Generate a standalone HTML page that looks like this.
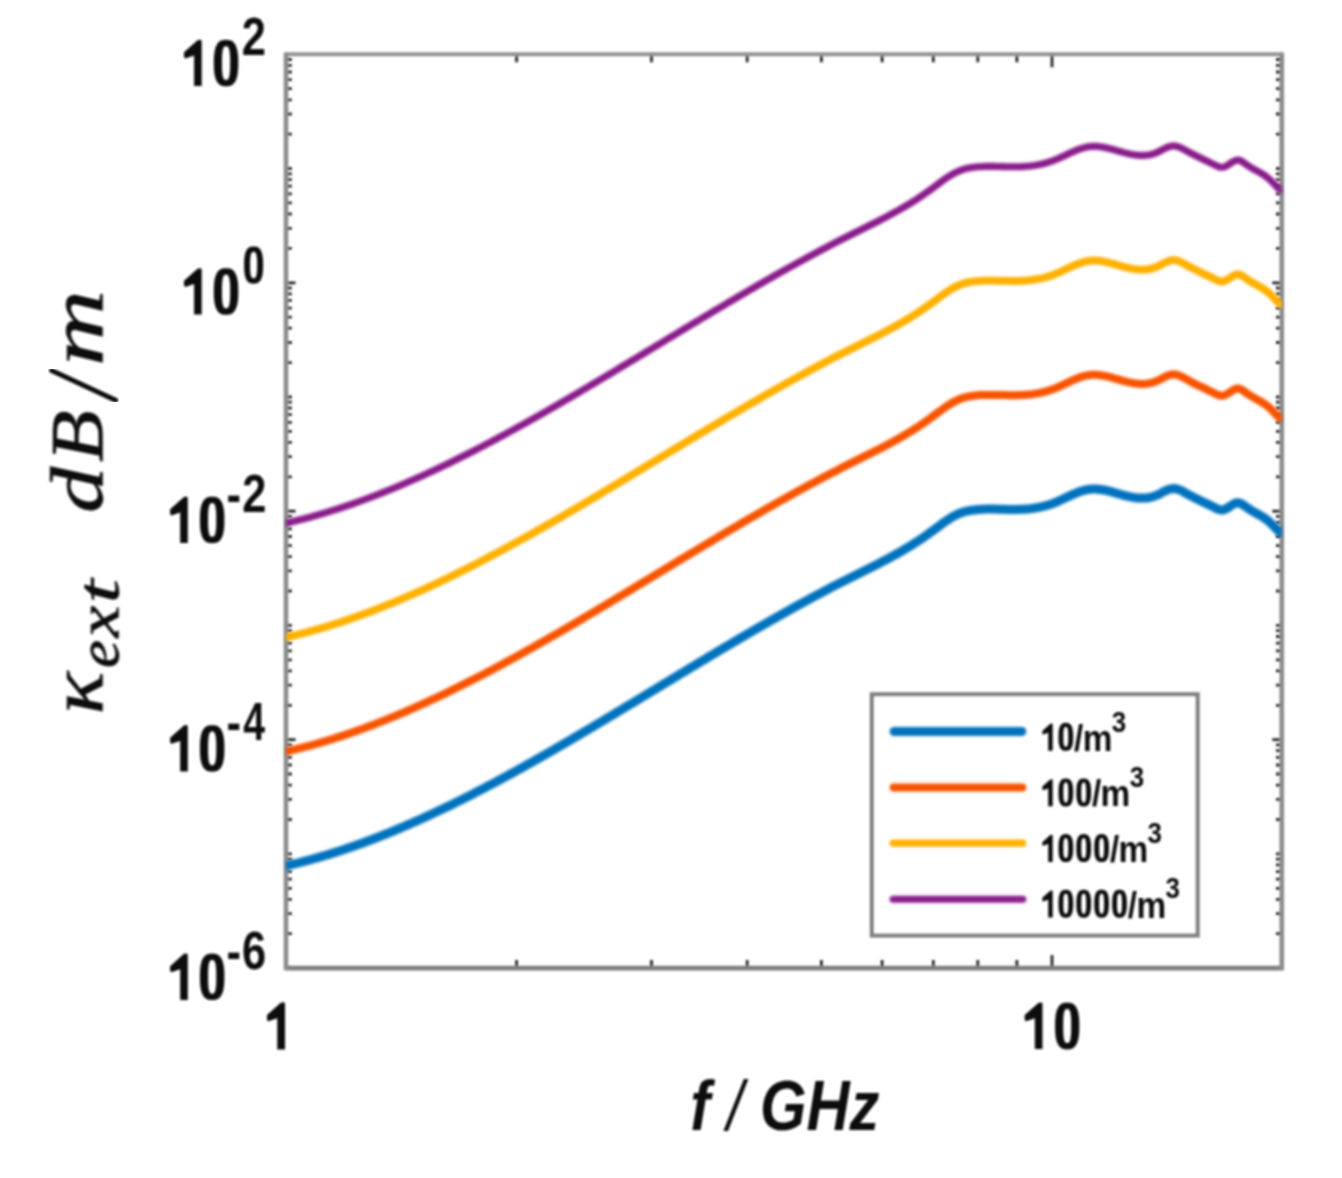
<!DOCTYPE html><html><head><meta charset="utf-8"><style>html,body{margin:0;padding:0;background:#fff;}svg{display:block}</style></head><body>
<svg width="1342" height="1178" viewBox="0 0 1342 1178">
<defs><filter id="b" x="-5%" y="-5%" width="110%" height="110%"><feGaussianBlur stdDeviation="1.0"/></filter><filter id="c" x="-5%" y="-5%" width="110%" height="110%"><feGaussianBlur stdDeviation="1.5"/></filter>
<clipPath id="ax"><rect x="286.0" y="44.3" width="995.8" height="933.8"/></clipPath></defs>
<rect width="1342" height="1178" fill="#fff"/>
<g filter="url(#b)">
<path d="M516.6,968.1V960.1M516.6,54.3V62.3M651.5,968.1V960.1M651.5,54.3V62.3M747.2,968.1V960.1M747.2,54.3V62.3M821.4,968.1V960.1M821.4,54.3V62.3M882.1,968.1V960.1M882.1,54.3V62.3M933.3,968.1V960.1M933.3,54.3V62.3M977.8,968.1V960.1M977.8,54.3V62.3M1016.9,968.1V960.1M1016.9,54.3V62.3M1052.0,968.1V955.1M1052.0,54.3V67.3M1282.6,968.1V960.1M1282.6,54.3V62.3M285.5,968.1H295.5M1282.3,968.1H1272.3M285.5,933.7H291.8M1282.3,933.7H1276.0M285.5,913.6H291.8M1282.3,913.6H1276.0M285.5,899.3H291.8M1282.3,899.3H1276.0M285.5,888.3H291.8M1282.3,888.3H1276.0M285.5,879.2H291.8M1282.3,879.2H1276.0M285.5,871.6H291.8M1282.3,871.6H1276.0M285.5,864.9H291.8M1282.3,864.9H1276.0M285.5,859.1H291.8M1282.3,859.1H1276.0M285.5,853.9H291.8M1282.3,853.9H1276.0M285.5,819.5H291.8M1282.3,819.5H1276.0M285.5,799.4H291.8M1282.3,799.4H1276.0M285.5,785.1H291.8M1282.3,785.1H1276.0M285.5,774.0H291.8M1282.3,774.0H1276.0M285.5,765.0H291.8M1282.3,765.0H1276.0M285.5,757.3H291.8M1282.3,757.3H1276.0M285.5,750.7H291.8M1282.3,750.7H1276.0M285.5,744.9H291.8M1282.3,744.9H1276.0M285.5,739.6H295.5M1282.3,739.6H1272.3M285.5,705.3H291.8M1282.3,705.3H1276.0M285.5,685.2H291.8M1282.3,685.2H1276.0M285.5,670.9H291.8M1282.3,670.9H1276.0M285.5,659.8H291.8M1282.3,659.8H1276.0M285.5,650.8H291.8M1282.3,650.8H1276.0M285.5,643.1H291.8M1282.3,643.1H1276.0M285.5,636.5H291.8M1282.3,636.5H1276.0M285.5,630.7H291.8M1282.3,630.7H1276.0M285.5,625.4H291.8M1282.3,625.4H1276.0M285.5,591.0H291.8M1282.3,591.0H1276.0M285.5,570.9H291.8M1282.3,570.9H1276.0M285.5,556.7H291.8M1282.3,556.7H1276.0M285.5,545.6H291.8M1282.3,545.6H1276.0M285.5,536.5H291.8M1282.3,536.5H1276.0M285.5,528.9H291.8M1282.3,528.9H1276.0M285.5,522.3H291.8M1282.3,522.3H1276.0M285.5,516.4H291.8M1282.3,516.4H1276.0M285.5,511.2H295.5M1282.3,511.2H1272.3M285.5,476.8H291.8M1282.3,476.8H1276.0M285.5,456.7H291.8M1282.3,456.7H1276.0M285.5,442.4H291.8M1282.3,442.4H1276.0M285.5,431.4H291.8M1282.3,431.4H1276.0M285.5,422.3H291.8M1282.3,422.3H1276.0M285.5,414.7H291.8M1282.3,414.7H1276.0M285.5,408.0H291.8M1282.3,408.0H1276.0M285.5,402.2H291.8M1282.3,402.2H1276.0M285.5,397.0H291.8M1282.3,397.0H1276.0M285.5,362.6H291.8M1282.3,362.6H1276.0M285.5,342.5H291.8M1282.3,342.5H1276.0M285.5,328.2H291.8M1282.3,328.2H1276.0M285.5,317.1H291.8M1282.3,317.1H1276.0M285.5,308.1H291.8M1282.3,308.1H1276.0M285.5,300.4H291.8M1282.3,300.4H1276.0M285.5,293.8H291.8M1282.3,293.8H1276.0M285.5,288.0H291.8M1282.3,288.0H1276.0M285.5,282.8H295.5M1282.3,282.8H1272.3M285.5,248.4H291.8M1282.3,248.4H1276.0M285.5,228.3H291.8M1282.3,228.3H1276.0M285.5,214.0H291.8M1282.3,214.0H1276.0M285.5,202.9H291.8M1282.3,202.9H1276.0M285.5,193.9H291.8M1282.3,193.9H1276.0M285.5,186.2H291.8M1282.3,186.2H1276.0M285.5,179.6H291.8M1282.3,179.6H1276.0M285.5,173.8H291.8M1282.3,173.8H1276.0M285.5,168.5H291.8M1282.3,168.5H1276.0M285.5,134.1H291.8M1282.3,134.1H1276.0M285.5,114.0H291.8M1282.3,114.0H1276.0M285.5,99.8H291.8M1282.3,99.8H1276.0M285.5,88.7H291.8M1282.3,88.7H1276.0M285.5,79.6H291.8M1282.3,79.6H1276.0M285.5,72.0H291.8M1282.3,72.0H1276.0M285.5,65.4H291.8M1282.3,65.4H1276.0M285.5,59.5H291.8M1282.3,59.5H1276.0M285.5,54.3H295.5M1282.3,54.3H1272.3" stroke="#262626" stroke-width="2.8" fill="none"/>
<path d="M284.5,54.3H1283.3" stroke="#939393" stroke-width="4"/>
<path d="M284.5,968.1H1283.3" stroke="#7e7e7e" stroke-width="4.6"/>
<path d="M286.0,52.8V970.1" stroke="#8c8c8c" stroke-width="4.6"/>
<path d="M1281.8,52.8V970.1" stroke="#8c8c8c" stroke-width="4.6"/>
<rect x="871.9" y="694.3" width="325.7" height="241.2" fill="#fff" stroke="#808080" stroke-width="4.2"/>
</g>
<g filter="url(#c)">
<g clip-path="url(#ax)" fill="none" stroke-linejoin="round" stroke-linecap="round">
<path d="M286.0,865.8 288.0,865.3 290.0,864.9 292.0,864.4 294.0,863.9 296.0,863.5 298.0,863.0 300.0,862.5 302.0,861.9 304.0,861.4 306.0,860.9 308.0,860.4 310.0,859.8 312.0,859.3 314.0,858.7 316.0,858.2 318.0,857.6 320.0,857.0 322.0,856.4 324.0,855.8 326.0,855.2 328.0,854.6 330.0,854.0 332.0,853.4 334.0,852.8 336.0,852.1 338.0,851.5 340.0,850.8 342.0,850.2 344.0,849.5 346.0,848.8 348.0,848.1 350.0,847.5 352.0,846.8 354.0,846.1 356.0,845.4 358.0,844.6 360.0,843.9 362.0,843.2 364.0,842.5 366.0,841.7 368.0,841.0 370.0,840.2 372.0,839.5 374.0,838.7 376.0,837.9 378.0,837.2 380.0,836.4 382.0,835.6 384.0,834.8 386.0,834.0 388.0,833.2 390.0,832.4 392.0,831.5 394.0,830.7 396.0,829.9 398.0,829.0 400.0,828.2 402.0,827.4 404.0,826.5 406.0,825.6 408.0,824.8 410.0,823.9 412.0,823.0 414.0,822.1 416.0,821.3 418.0,820.4 420.0,819.5 422.0,818.6 424.0,817.7 426.0,816.7 428.0,815.8 430.0,814.9 432.0,814.0 434.0,813.0 436.0,812.1 438.0,811.1 440.0,810.2 442.0,809.2 444.0,808.3 446.0,807.3 448.0,806.4 450.0,805.4 452.0,804.4 454.0,803.4 456.0,802.4 458.0,801.5 460.0,800.5 462.0,799.5 464.0,798.5 466.0,797.4 468.0,796.4 470.0,795.4 472.0,794.4 474.0,793.4 476.0,792.3 478.0,791.3 480.0,790.3 482.0,789.2 484.0,788.2 486.0,787.1 488.0,786.1 490.0,785.0 492.0,784.0 494.0,782.9 496.0,781.9 498.0,780.8 500.0,779.7 502.0,778.6 504.0,777.5 506.0,776.5 508.0,775.4 510.0,774.3 512.0,773.2 514.0,772.1 516.0,771.0 518.0,769.9 520.0,768.8 522.0,767.7 524.0,766.6 526.0,765.4 528.0,764.3 530.0,763.2 532.0,762.1 534.0,761.0 536.0,759.8 538.0,758.7 540.0,757.6 542.0,756.4 544.0,755.3 546.0,754.1 548.0,753.0 550.0,751.9 552.0,750.7 554.0,749.6 556.0,748.4 558.0,747.2 560.0,746.1 562.0,744.9 564.0,743.8 566.0,742.6 568.0,741.4 570.0,740.3 572.0,739.1 574.0,737.9 576.0,736.7 578.0,735.6 580.0,734.4 582.0,733.2 584.0,732.0 586.0,730.8 588.0,729.7 590.0,728.5 592.0,727.3 594.0,726.1 596.0,724.9 598.0,723.7 600.0,722.5 602.0,721.3 604.0,720.1 606.0,718.9 608.0,717.7 610.0,716.5 612.0,715.3 614.0,714.1 616.0,712.9 618.0,711.7 620.0,710.5 622.0,709.3 624.0,708.1 626.0,706.9 628.0,705.7 630.0,704.5 632.0,703.3 634.0,702.1 636.0,700.9 638.0,699.7 640.0,698.5 642.0,697.2 644.0,696.0 646.0,694.8 648.0,693.6 650.0,692.4 652.0,691.2 654.0,690.0 656.0,688.8 658.0,687.5 660.0,686.3 662.0,685.1 664.0,683.9 666.0,682.7 668.0,681.5 670.0,680.3 672.0,679.1 674.0,677.9 676.0,676.7 678.0,675.4 680.0,674.2 682.0,673.0 684.0,671.8 686.0,670.6 688.0,669.4 690.0,668.2 692.0,667.0 694.0,665.8 696.0,664.6 698.0,663.4 700.0,662.2 702.0,661.0 704.0,659.8 706.0,658.6 708.0,657.4 710.0,656.2 712.0,655.0 714.0,653.8 716.0,652.6 718.0,651.4 720.0,650.2 722.0,649.0 724.0,647.8 726.0,646.7 728.0,645.5 730.0,644.3 732.0,643.1 734.0,641.9 736.0,640.8 738.0,639.6 740.0,638.4 742.0,637.2 744.0,636.1 746.0,634.9 748.0,633.7 750.0,632.6 752.0,631.4 754.0,630.2 756.0,629.1 758.0,627.9 760.0,626.8 762.0,625.6 764.0,624.5 766.0,623.3 768.0,622.2 770.0,621.0 772.0,619.9 774.0,618.8 776.0,617.6 778.0,616.5 780.0,615.4 782.0,614.2 784.0,613.1 786.0,612.0 788.0,610.9 790.0,609.8 792.0,608.6 794.0,607.5 796.0,606.4 798.0,605.3 800.0,604.2 802.0,603.1 804.0,602.0 806.0,601.0 808.0,599.9 810.0,598.8 812.0,597.7 814.0,596.6 816.0,595.6 818.0,594.5 820.0,593.4 822.0,592.4 824.0,591.3 826.0,590.2 828.0,589.2 830.0,588.1 832.0,587.1 834.0,586.1 836.0,585.0 838.0,584.0 840.0,583.0 842.0,581.9 844.0,580.9 846.0,579.9 848.0,578.9 850.0,577.9 852.0,576.9 854.0,575.9 856.0,574.9 858.0,573.9 860.0,572.9 862.0,571.9 864.0,570.9 866.0,569.9 868.0,568.9 870.0,567.9 872.0,566.9 874.0,565.9 876.0,564.9 878.0,563.9 880.0,562.9 882.0,561.8 884.0,560.8 886.0,559.7 888.0,558.7 890.0,557.6 892.0,556.5 894.0,555.4 896.0,554.3 898.0,553.2 900.0,552.1 902.0,550.9 904.0,549.7 906.0,548.6 908.0,547.3 910.0,546.1 912.0,544.9 914.0,543.6 916.0,542.3 918.0,541.0 920.0,539.7 922.0,538.4 924.0,537.0 926.0,535.6 928.0,534.2 930.0,532.7 932.0,531.3 934.0,529.8 936.0,528.3 938.0,526.8 940.0,525.3 942.0,523.8 944.0,522.4 946.0,521.0 948.0,519.7 950.0,518.4 952.0,517.2 954.0,516.0 956.0,515.0 958.0,514.0 960.0,513.2 962.0,512.5 964.0,511.8 966.0,511.3 968.0,510.9 970.0,510.5 972.0,510.2 974.0,509.9 976.0,509.7 978.0,509.5 980.0,509.4 982.0,509.3 984.0,509.2 986.0,509.1 988.0,509.1 990.0,509.1 992.0,509.1 994.0,509.1 996.0,509.1 998.0,509.2 1000.0,509.2 1002.0,509.3 1004.0,509.3 1006.0,509.4 1008.0,509.4 1010.0,509.4 1012.0,509.4 1014.0,509.5 1016.0,509.4 1018.0,509.4 1020.0,509.3 1022.0,509.3 1024.0,509.2 1026.0,509.0 1028.0,508.9 1030.0,508.7 1032.0,508.4 1034.0,508.2 1036.0,507.8 1038.0,507.5 1040.0,507.1 1042.0,506.7 1044.0,506.2 1046.0,505.6 1048.0,505.1 1050.0,504.4 1052.0,503.7 1054.0,503.0 1056.0,502.2 1058.0,501.3 1060.0,500.4 1062.0,499.5 1064.0,498.6 1066.0,497.6 1068.0,496.7 1070.0,495.8 1072.0,494.8 1074.0,494.0 1076.0,493.1 1078.0,492.3 1080.0,491.6 1082.0,490.9 1084.0,490.4 1086.0,489.9 1088.0,489.5 1090.0,489.2 1092.0,489.1 1094.0,489.0 1096.0,489.0 1098.0,489.2 1100.0,489.4 1102.0,489.7 1104.0,490.0 1106.0,490.4 1108.0,490.9 1110.0,491.4 1112.0,491.9 1114.0,492.5 1116.0,493.1 1118.0,493.6 1120.0,494.2 1122.0,494.8 1124.0,495.3 1126.0,495.8 1128.0,496.3 1130.0,496.7 1132.0,497.1 1134.0,497.5 1136.0,497.8 1138.0,498.0 1140.0,498.1 1142.0,498.1 1144.0,498.1 1146.0,498.0 1148.0,497.7 1150.0,497.4 1152.0,496.9 1154.0,496.3 1156.0,495.6 1158.0,494.7 1160.0,493.7 1162.0,492.6 1164.0,491.6 1166.0,490.6 1168.0,489.8 1170.0,489.1 1172.0,488.7 1174.0,488.6 1176.0,488.8 1178.0,489.4 1180.0,490.1 1182.0,491.1 1184.0,492.1 1186.0,493.3 1188.0,494.4 1190.0,495.4 1192.0,496.5 1194.0,497.5 1196.0,498.5 1198.0,499.5 1200.0,500.4 1202.0,501.4 1204.0,502.4 1206.0,503.3 1208.0,504.3 1210.0,505.3 1212.0,506.3 1214.0,507.3 1216.0,508.3 1218.0,509.2 1220.0,509.8 1222.0,510.0 1224.0,509.7 1226.0,508.8 1228.0,507.7 1230.0,506.3 1232.0,505.0 1234.0,503.8 1236.0,503.0 1238.0,502.8 1240.0,503.2 1242.0,504.1 1244.0,505.5 1246.0,506.9 1248.0,508.3 1250.0,509.6 1252.0,510.8 1254.0,512.0 1256.0,513.1 1258.0,514.2 1260.0,515.3 1262.0,516.5 1264.0,517.8 1266.0,519.2 1268.0,520.7 1270.0,522.5 1272.0,524.4 1274.0,526.5 1276.0,528.6 1278.0,530.6 1280.0,532.5" stroke="#0072BD" stroke-width="9.0"/>
<path d="M286.0,751.6 288.0,751.1 290.0,750.7 292.0,750.2 294.0,749.7 296.0,749.2 298.0,748.7 300.0,748.2 302.0,747.7 304.0,747.2 306.0,746.7 308.0,746.1 310.0,745.6 312.0,745.1 314.0,744.5 316.0,743.9 318.0,743.4 320.0,742.8 322.0,742.2 324.0,741.6 326.0,741.0 328.0,740.4 330.0,739.8 332.0,739.2 334.0,738.5 336.0,737.9 338.0,737.2 340.0,736.6 342.0,735.9 344.0,735.3 346.0,734.6 348.0,733.9 350.0,733.2 352.0,732.5 354.0,731.8 356.0,731.1 358.0,730.4 360.0,729.7 362.0,729.0 364.0,728.2 366.0,727.5 368.0,726.8 370.0,726.0 372.0,725.2 374.0,724.5 376.0,723.7 378.0,722.9 380.0,722.1 382.0,721.4 384.0,720.6 386.0,719.8 388.0,718.9 390.0,718.1 392.0,717.3 394.0,716.5 396.0,715.7 398.0,714.8 400.0,714.0 402.0,713.1 404.0,712.3 406.0,711.4 408.0,710.5 410.0,709.7 412.0,708.8 414.0,707.9 416.0,707.0 418.0,706.1 420.0,705.2 422.0,704.3 424.0,703.4 426.0,702.5 428.0,701.6 430.0,700.7 432.0,699.7 434.0,698.8 436.0,697.9 438.0,696.9 440.0,696.0 442.0,695.0 444.0,694.1 446.0,693.1 448.0,692.1 450.0,691.2 452.0,690.2 454.0,689.2 456.0,688.2 458.0,687.2 460.0,686.2 462.0,685.2 464.0,684.2 466.0,683.2 468.0,682.2 470.0,681.2 472.0,680.2 474.0,679.2 476.0,678.1 478.0,677.1 480.0,676.1 482.0,675.0 484.0,674.0 486.0,672.9 488.0,671.9 490.0,670.8 492.0,669.8 494.0,668.7 496.0,667.6 498.0,666.6 500.0,665.5 502.0,664.4 504.0,663.3 506.0,662.2 508.0,661.2 510.0,660.1 512.0,659.0 514.0,657.9 516.0,656.8 518.0,655.7 520.0,654.6 522.0,653.5 524.0,652.3 526.0,651.2 528.0,650.1 530.0,649.0 532.0,647.9 534.0,646.7 536.0,645.6 538.0,644.5 540.0,643.3 542.0,642.2 544.0,641.1 546.0,639.9 548.0,638.8 550.0,637.6 552.0,636.5 554.0,635.3 556.0,634.2 558.0,633.0 560.0,631.9 562.0,630.7 564.0,629.5 566.0,628.4 568.0,627.2 570.0,626.0 572.0,624.9 574.0,623.7 576.0,622.5 578.0,621.3 580.0,620.2 582.0,619.0 584.0,617.8 586.0,616.6 588.0,615.4 590.0,614.2 592.0,613.1 594.0,611.9 596.0,610.7 598.0,609.5 600.0,608.3 602.0,607.1 604.0,605.9 606.0,604.7 608.0,603.5 610.0,602.3 612.0,601.1 614.0,599.9 616.0,598.7 618.0,597.5 620.0,596.3 622.0,595.1 624.0,593.9 626.0,592.7 628.0,591.5 630.0,590.3 632.0,589.1 634.0,587.9 636.0,586.6 638.0,585.4 640.0,584.2 642.0,583.0 644.0,581.8 646.0,580.6 648.0,579.4 650.0,578.2 652.0,577.0 654.0,575.7 656.0,574.5 658.0,573.3 660.0,572.1 662.0,570.9 664.0,569.7 666.0,568.5 668.0,567.3 670.0,566.1 672.0,564.8 674.0,563.6 676.0,562.4 678.0,561.2 680.0,560.0 682.0,558.8 684.0,557.6 686.0,556.4 688.0,555.2 690.0,554.0 692.0,552.8 694.0,551.6 696.0,550.4 698.0,549.2 700.0,548.0 702.0,546.8 704.0,545.6 706.0,544.4 708.0,543.2 710.0,542.0 712.0,540.8 714.0,539.6 716.0,538.4 718.0,537.2 720.0,536.0 722.0,534.8 724.0,533.6 726.0,532.4 728.0,531.2 730.0,530.1 732.0,528.9 734.0,527.7 736.0,526.5 738.0,525.4 740.0,524.2 742.0,523.0 744.0,521.8 746.0,520.7 748.0,519.5 750.0,518.3 752.0,517.2 754.0,516.0 756.0,514.9 758.0,513.7 760.0,512.5 762.0,511.4 764.0,510.2 766.0,509.1 768.0,508.0 770.0,506.8 772.0,505.7 774.0,504.5 776.0,503.4 778.0,502.3 780.0,501.1 782.0,500.0 784.0,498.9 786.0,497.8 788.0,496.7 790.0,495.5 792.0,494.4 794.0,493.3 796.0,492.2 798.0,491.1 800.0,490.0 802.0,488.9 804.0,487.8 806.0,486.7 808.0,485.6 810.0,484.6 812.0,483.5 814.0,482.4 816.0,481.3 818.0,480.3 820.0,479.2 822.0,478.1 824.0,477.1 826.0,476.0 828.0,475.0 830.0,473.9 832.0,472.9 834.0,471.8 836.0,470.8 838.0,469.8 840.0,468.7 842.0,467.7 844.0,466.7 846.0,465.7 848.0,464.7 850.0,463.7 852.0,462.7 854.0,461.7 856.0,460.7 858.0,459.7 860.0,458.7 862.0,457.7 864.0,456.7 866.0,455.7 868.0,454.7 870.0,453.7 872.0,452.7 874.0,451.7 876.0,450.7 878.0,449.7 880.0,448.6 882.0,447.6 884.0,446.6 886.0,445.5 888.0,444.4 890.0,443.4 892.0,442.3 894.0,441.2 896.0,440.1 898.0,439.0 900.0,437.8 902.0,436.7 904.0,435.5 906.0,434.3 908.0,433.1 910.0,431.9 912.0,430.7 914.0,429.4 916.0,428.1 918.0,426.8 920.0,425.5 922.0,424.1 924.0,422.8 926.0,421.4 928.0,419.9 930.0,418.5 932.0,417.0 934.0,415.5 936.0,414.0 938.0,412.5 940.0,411.1 942.0,409.6 944.0,408.2 946.0,406.8 948.0,405.4 950.0,404.2 952.0,402.9 954.0,401.8 956.0,400.8 958.0,399.8 960.0,399.0 962.0,398.2 964.0,397.6 966.0,397.1 968.0,396.6 970.0,396.3 972.0,396.0 974.0,395.7 976.0,395.5 978.0,395.3 980.0,395.1 982.0,395.0 984.0,395.0 986.0,394.9 988.0,394.9 990.0,394.9 992.0,394.9 994.0,394.9 996.0,394.9 998.0,394.9 1000.0,395.0 1002.0,395.0 1004.0,395.1 1006.0,395.1 1008.0,395.2 1010.0,395.2 1012.0,395.2 1014.0,395.2 1016.0,395.2 1018.0,395.2 1020.0,395.1 1022.0,395.0 1024.0,394.9 1026.0,394.8 1028.0,394.6 1030.0,394.4 1032.0,394.2 1034.0,393.9 1036.0,393.6 1038.0,393.3 1040.0,392.9 1042.0,392.4 1044.0,392.0 1046.0,391.4 1048.0,390.8 1050.0,390.2 1052.0,389.5 1054.0,388.8 1056.0,388.0 1058.0,387.1 1060.0,386.2 1062.0,385.3 1064.0,384.4 1066.0,383.4 1068.0,382.5 1070.0,381.5 1072.0,380.6 1074.0,379.7 1076.0,378.9 1078.0,378.1 1080.0,377.4 1082.0,376.7 1084.0,376.1 1086.0,375.7 1088.0,375.3 1090.0,375.0 1092.0,374.8 1094.0,374.8 1096.0,374.8 1098.0,374.9 1100.0,375.2 1102.0,375.5 1104.0,375.8 1106.0,376.2 1108.0,376.7 1110.0,377.2 1112.0,377.7 1114.0,378.3 1116.0,378.8 1118.0,379.4 1120.0,380.0 1122.0,380.5 1124.0,381.1 1126.0,381.6 1128.0,382.1 1130.0,382.5 1132.0,382.9 1134.0,383.3 1136.0,383.5 1138.0,383.7 1140.0,383.9 1142.0,383.9 1144.0,383.9 1146.0,383.7 1148.0,383.5 1150.0,383.1 1152.0,382.7 1154.0,382.1 1156.0,381.3 1158.0,380.5 1160.0,379.5 1162.0,378.4 1164.0,377.4 1166.0,376.4 1168.0,375.5 1170.0,374.9 1172.0,374.5 1174.0,374.4 1176.0,374.6 1178.0,375.1 1180.0,375.9 1182.0,376.9 1184.0,377.9 1186.0,379.0 1188.0,380.1 1190.0,381.2 1192.0,382.3 1194.0,383.3 1196.0,384.3 1198.0,385.3 1200.0,386.2 1202.0,387.2 1204.0,388.1 1206.0,389.1 1208.0,390.1 1210.0,391.1 1212.0,392.0 1214.0,393.1 1216.0,394.1 1218.0,394.9 1220.0,395.6 1222.0,395.8 1224.0,395.4 1226.0,394.6 1228.0,393.4 1230.0,392.1 1232.0,390.8 1234.0,389.6 1236.0,388.8 1238.0,388.5 1240.0,389.0 1242.0,389.9 1244.0,391.2 1246.0,392.7 1248.0,394.1 1250.0,395.4 1252.0,396.6 1254.0,397.7 1256.0,398.9 1258.0,400.0 1260.0,401.1 1262.0,402.3 1264.0,403.6 1266.0,405.0 1268.0,406.5 1270.0,408.3 1272.0,410.2 1274.0,412.3 1276.0,414.4 1278.0,416.4 1280.0,418.3" stroke="#F85200" stroke-width="8.0"/>
<path d="M286.0,637.4 288.0,636.9 290.0,636.4 292.0,636.0 294.0,635.5 296.0,635.0 298.0,634.5 300.0,634.0 302.0,633.5 304.0,633.0 306.0,632.5 308.0,631.9 310.0,631.4 312.0,630.8 314.0,630.3 316.0,629.7 318.0,629.1 320.0,628.6 322.0,628.0 324.0,627.4 326.0,626.8 328.0,626.2 330.0,625.6 332.0,624.9 334.0,624.3 336.0,623.7 338.0,623.0 340.0,622.4 342.0,621.7 344.0,621.0 346.0,620.4 348.0,619.7 350.0,619.0 352.0,618.3 354.0,617.6 356.0,616.9 358.0,616.2 360.0,615.5 362.0,614.7 364.0,614.0 366.0,613.3 368.0,612.5 370.0,611.8 372.0,611.0 374.0,610.3 376.0,609.5 378.0,608.7 380.0,607.9 382.0,607.1 384.0,606.3 386.0,605.5 388.0,604.7 390.0,603.9 392.0,603.1 394.0,602.3 396.0,601.4 398.0,600.6 400.0,599.8 402.0,598.9 404.0,598.0 406.0,597.2 408.0,596.3 410.0,595.5 412.0,594.6 414.0,593.7 416.0,592.8 418.0,591.9 420.0,591.0 422.0,590.1 424.0,589.2 426.0,588.3 428.0,587.4 430.0,586.4 432.0,585.5 434.0,584.6 436.0,583.6 438.0,582.7 440.0,581.8 442.0,580.8 444.0,579.8 446.0,578.9 448.0,577.9 450.0,576.9 452.0,576.0 454.0,575.0 456.0,574.0 458.0,573.0 460.0,572.0 462.0,571.0 464.0,570.0 466.0,569.0 468.0,568.0 470.0,567.0 472.0,565.9 474.0,564.9 476.0,563.9 478.0,562.9 480.0,561.8 482.0,560.8 484.0,559.7 486.0,558.7 488.0,557.6 490.0,556.6 492.0,555.5 494.0,554.5 496.0,553.4 498.0,552.3 500.0,551.3 502.0,550.2 504.0,549.1 506.0,548.0 508.0,546.9 510.0,545.8 512.0,544.7 514.0,543.6 516.0,542.5 518.0,541.4 520.0,540.3 522.0,539.2 524.0,538.1 526.0,537.0 528.0,535.9 530.0,534.8 532.0,533.6 534.0,532.5 536.0,531.4 538.0,530.2 540.0,529.1 542.0,528.0 544.0,526.8 546.0,525.7 548.0,524.5 550.0,523.4 552.0,522.3 554.0,521.1 556.0,519.9 558.0,518.8 560.0,517.6 562.0,516.5 564.0,515.3 566.0,514.1 568.0,513.0 570.0,511.8 572.0,510.6 574.0,509.5 576.0,508.3 578.0,507.1 580.0,505.9 582.0,504.8 584.0,503.6 586.0,502.4 588.0,501.2 590.0,500.0 592.0,498.8 594.0,497.6 596.0,496.5 598.0,495.3 600.0,494.1 602.0,492.9 604.0,491.7 606.0,490.5 608.0,489.3 610.0,488.1 612.0,486.9 614.0,485.7 616.0,484.5 618.0,483.3 620.0,482.1 622.0,480.9 624.0,479.7 626.0,478.5 628.0,477.3 630.0,476.0 632.0,474.8 634.0,473.6 636.0,472.4 638.0,471.2 640.0,470.0 642.0,468.8 644.0,467.6 646.0,466.4 648.0,465.2 650.0,463.9 652.0,462.7 654.0,461.5 656.0,460.3 658.0,459.1 660.0,457.9 662.0,456.7 664.0,455.5 666.0,454.3 668.0,453.0 670.0,451.8 672.0,450.6 674.0,449.4 676.0,448.2 678.0,447.0 680.0,445.8 682.0,444.6 684.0,443.4 686.0,442.2 688.0,441.0 690.0,439.7 692.0,438.5 694.0,437.3 696.0,436.1 698.0,434.9 700.0,433.7 702.0,432.5 704.0,431.3 706.0,430.1 708.0,428.9 710.0,427.7 712.0,426.5 714.0,425.3 716.0,424.2 718.0,423.0 720.0,421.8 722.0,420.6 724.0,419.4 726.0,418.2 728.0,417.0 730.0,415.8 732.0,414.7 734.0,413.5 736.0,412.3 738.0,411.1 740.0,410.0 742.0,408.8 744.0,407.6 746.0,406.4 748.0,405.3 750.0,404.1 752.0,402.9 754.0,401.8 756.0,400.6 758.0,399.5 760.0,398.3 762.0,397.2 764.0,396.0 766.0,394.9 768.0,393.7 770.0,392.6 772.0,391.4 774.0,390.3 776.0,389.2 778.0,388.0 780.0,386.9 782.0,385.8 784.0,384.7 786.0,383.5 788.0,382.4 790.0,381.3 792.0,380.2 794.0,379.1 796.0,378.0 798.0,376.9 800.0,375.8 802.0,374.7 804.0,373.6 806.0,372.5 808.0,371.4 810.0,370.3 812.0,369.3 814.0,368.2 816.0,367.1 818.0,366.0 820.0,365.0 822.0,363.9 824.0,362.8 826.0,361.8 828.0,360.7 830.0,359.7 832.0,358.6 834.0,357.6 836.0,356.6 838.0,355.5 840.0,354.5 842.0,353.5 844.0,352.5 846.0,351.5 848.0,350.4 850.0,349.4 852.0,348.4 854.0,347.4 856.0,346.4 858.0,345.4 860.0,344.4 862.0,343.5 864.0,342.5 866.0,341.5 868.0,340.5 870.0,339.5 872.0,338.5 874.0,337.5 876.0,336.4 878.0,335.4 880.0,334.4 882.0,333.4 884.0,332.3 886.0,331.3 888.0,330.2 890.0,329.1 892.0,328.1 894.0,327.0 896.0,325.9 898.0,324.7 900.0,323.6 902.0,322.5 904.0,321.3 906.0,320.1 908.0,318.9 910.0,317.7 912.0,316.4 914.0,315.2 916.0,313.9 918.0,312.6 920.0,311.3 922.0,309.9 924.0,308.5 926.0,307.1 928.0,305.7 930.0,304.3 932.0,302.8 934.0,301.3 936.0,299.8 938.0,298.3 940.0,296.8 942.0,295.4 944.0,293.9 946.0,292.5 948.0,291.2 950.0,289.9 952.0,288.7 954.0,287.6 956.0,286.5 958.0,285.6 960.0,284.8 962.0,284.0 964.0,283.4 966.0,282.9 968.0,282.4 970.0,282.0 972.0,281.7 974.0,281.5 976.0,281.2 978.0,281.1 980.0,280.9 982.0,280.8 984.0,280.7 986.0,280.7 988.0,280.6 990.0,280.6 992.0,280.6 994.0,280.6 996.0,280.7 998.0,280.7 1000.0,280.8 1002.0,280.8 1004.0,280.9 1006.0,280.9 1008.0,280.9 1010.0,281.0 1012.0,281.0 1014.0,281.0 1016.0,281.0 1018.0,281.0 1020.0,280.9 1022.0,280.8 1024.0,280.7 1026.0,280.6 1028.0,280.4 1030.0,280.2 1032.0,280.0 1034.0,279.7 1036.0,279.4 1038.0,279.0 1040.0,278.6 1042.0,278.2 1044.0,277.7 1046.0,277.2 1048.0,276.6 1050.0,276.0 1052.0,275.3 1054.0,274.5 1056.0,273.7 1058.0,272.9 1060.0,272.0 1062.0,271.1 1064.0,270.1 1066.0,269.2 1068.0,268.2 1070.0,267.3 1072.0,266.4 1074.0,265.5 1076.0,264.7 1078.0,263.9 1080.0,263.2 1082.0,262.5 1084.0,261.9 1086.0,261.4 1088.0,261.0 1090.0,260.8 1092.0,260.6 1094.0,260.5 1096.0,260.6 1098.0,260.7 1100.0,260.9 1102.0,261.2 1104.0,261.6 1106.0,262.0 1108.0,262.5 1110.0,263.0 1112.0,263.5 1114.0,264.0 1116.0,264.6 1118.0,265.2 1120.0,265.8 1122.0,266.3 1124.0,266.9 1126.0,267.4 1128.0,267.8 1130.0,268.3 1132.0,268.7 1134.0,269.0 1136.0,269.3 1138.0,269.5 1140.0,269.6 1142.0,269.7 1144.0,269.7 1146.0,269.5 1148.0,269.3 1150.0,268.9 1152.0,268.4 1154.0,267.8 1156.0,267.1 1158.0,266.2 1160.0,265.2 1162.0,264.2 1164.0,263.1 1166.0,262.2 1168.0,261.3 1170.0,260.6 1172.0,260.2 1174.0,260.1 1176.0,260.4 1178.0,260.9 1180.0,261.7 1182.0,262.6 1184.0,263.7 1186.0,264.8 1188.0,265.9 1190.0,267.0 1192.0,268.0 1194.0,269.0 1196.0,270.0 1198.0,271.0 1200.0,272.0 1202.0,273.0 1204.0,273.9 1206.0,274.9 1208.0,275.8 1210.0,276.8 1212.0,277.8 1214.0,278.8 1216.0,279.8 1218.0,280.7 1220.0,281.3 1222.0,281.5 1224.0,281.2 1226.0,280.4 1228.0,279.2 1230.0,277.9 1232.0,276.5 1234.0,275.4 1236.0,274.6 1238.0,274.3 1240.0,274.7 1242.0,275.7 1244.0,277.0 1246.0,278.5 1248.0,279.9 1250.0,281.2 1252.0,282.4 1254.0,283.5 1256.0,284.6 1258.0,285.7 1260.0,286.9 1262.0,288.1 1264.0,289.3 1266.0,290.7 1268.0,292.3 1270.0,294.0 1272.0,296.0 1274.0,298.0 1276.0,300.2 1278.0,302.2 1280.0,304.0" stroke="#FFB000" stroke-width="7.8"/>
<path d="M286.0,523.1 288.0,522.7 290.0,522.2 292.0,521.7 294.0,521.3 296.0,520.8 298.0,520.3 300.0,519.8 302.0,519.3 304.0,518.8 306.0,518.2 308.0,517.7 310.0,517.2 312.0,516.6 314.0,516.0 316.0,515.5 318.0,514.9 320.0,514.3 322.0,513.7 324.0,513.2 326.0,512.6 328.0,511.9 330.0,511.3 332.0,510.7 334.0,510.1 336.0,509.4 338.0,508.8 340.0,508.1 342.0,507.5 344.0,506.8 346.0,506.1 348.0,505.5 350.0,504.8 352.0,504.1 354.0,503.4 356.0,502.7 358.0,502.0 360.0,501.2 362.0,500.5 364.0,499.8 366.0,499.0 368.0,498.3 370.0,497.5 372.0,496.8 374.0,496.0 376.0,495.3 378.0,494.5 380.0,493.7 382.0,492.9 384.0,492.1 386.0,491.3 388.0,490.5 390.0,489.7 392.0,488.9 394.0,488.0 396.0,487.2 398.0,486.4 400.0,485.5 402.0,484.7 404.0,483.8 406.0,483.0 408.0,482.1 410.0,481.2 412.0,480.3 414.0,479.5 416.0,478.6 418.0,477.7 420.0,476.8 422.0,475.9 424.0,475.0 426.0,474.1 428.0,473.1 430.0,472.2 432.0,471.3 434.0,470.4 436.0,469.4 438.0,468.5 440.0,467.5 442.0,466.6 444.0,465.6 446.0,464.7 448.0,463.7 450.0,462.7 452.0,461.7 454.0,460.8 456.0,459.8 458.0,458.8 460.0,457.8 462.0,456.8 464.0,455.8 466.0,454.8 468.0,453.8 470.0,452.7 472.0,451.7 474.0,450.7 476.0,449.7 478.0,448.6 480.0,447.6 482.0,446.6 484.0,445.5 486.0,444.5 488.0,443.4 490.0,442.4 492.0,441.3 494.0,440.2 496.0,439.2 498.0,438.1 500.0,437.0 502.0,436.0 504.0,434.9 506.0,433.8 508.0,432.7 510.0,431.6 512.0,430.5 514.0,429.4 516.0,428.3 518.0,427.2 520.0,426.1 522.0,425.0 524.0,423.9 526.0,422.8 528.0,421.7 530.0,420.5 532.0,419.4 534.0,418.3 536.0,417.2 538.0,416.0 540.0,414.9 542.0,413.8 544.0,412.6 546.0,411.5 548.0,410.3 550.0,409.2 552.0,408.0 554.0,406.9 556.0,405.7 558.0,404.6 560.0,403.4 562.0,402.2 564.0,401.1 566.0,399.9 568.0,398.8 570.0,397.6 572.0,396.4 574.0,395.2 576.0,394.1 578.0,392.9 580.0,391.7 582.0,390.5 584.0,389.3 586.0,388.2 588.0,387.0 590.0,385.8 592.0,384.6 594.0,383.4 596.0,382.2 598.0,381.0 600.0,379.8 602.0,378.6 604.0,377.5 606.0,376.3 608.0,375.1 610.0,373.9 612.0,372.7 614.0,371.5 616.0,370.3 618.0,369.1 620.0,367.8 622.0,366.6 624.0,365.4 626.0,364.2 628.0,363.0 630.0,361.8 632.0,360.6 634.0,359.4 636.0,358.2 638.0,357.0 640.0,355.8 642.0,354.6 644.0,353.4 646.0,352.1 648.0,350.9 650.0,349.7 652.0,348.5 654.0,347.3 656.0,346.1 658.0,344.9 660.0,343.7 662.0,342.5 664.0,341.2 666.0,340.0 668.0,338.8 670.0,337.6 672.0,336.4 674.0,335.2 676.0,334.0 678.0,332.8 680.0,331.6 682.0,330.3 684.0,329.1 686.0,327.9 688.0,326.7 690.0,325.5 692.0,324.3 694.0,323.1 696.0,321.9 698.0,320.7 700.0,319.5 702.0,318.3 704.0,317.1 706.0,315.9 708.0,314.7 710.0,313.5 712.0,312.3 714.0,311.1 716.0,309.9 718.0,308.7 720.0,307.5 722.0,306.4 724.0,305.2 726.0,304.0 728.0,302.8 730.0,301.6 732.0,300.4 734.0,299.3 736.0,298.1 738.0,296.9 740.0,295.7 742.0,294.6 744.0,293.4 746.0,292.2 748.0,291.0 750.0,289.9 752.0,288.7 754.0,287.6 756.0,286.4 758.0,285.2 760.0,284.1 762.0,282.9 764.0,281.8 766.0,280.6 768.0,279.5 770.0,278.4 772.0,277.2 774.0,276.1 776.0,274.9 778.0,273.8 780.0,272.7 782.0,271.6 784.0,270.4 786.0,269.3 788.0,268.2 790.0,267.1 792.0,266.0 794.0,264.9 796.0,263.8 798.0,262.7 800.0,261.6 802.0,260.5 804.0,259.4 806.0,258.3 808.0,257.2 810.0,256.1 812.0,255.0 814.0,254.0 816.0,252.9 818.0,251.8 820.0,250.7 822.0,249.7 824.0,248.6 826.0,247.6 828.0,246.5 830.0,245.5 832.0,244.4 834.0,243.4 836.0,242.3 838.0,241.3 840.0,240.3 842.0,239.3 844.0,238.2 846.0,237.2 848.0,236.2 850.0,235.2 852.0,234.2 854.0,233.2 856.0,232.2 858.0,231.2 860.0,230.2 862.0,229.2 864.0,228.2 866.0,227.2 868.0,226.2 870.0,225.2 872.0,224.2 874.0,223.2 876.0,222.2 878.0,221.2 880.0,220.2 882.0,219.1 884.0,218.1 886.0,217.1 888.0,216.0 890.0,214.9 892.0,213.8 894.0,212.7 896.0,211.6 898.0,210.5 900.0,209.4 902.0,208.2 904.0,207.1 906.0,205.9 908.0,204.7 910.0,203.5 912.0,202.2 914.0,201.0 916.0,199.7 918.0,198.4 920.0,197.0 922.0,195.7 924.0,194.3 926.0,192.9 928.0,191.5 930.0,190.1 932.0,188.6 934.0,187.1 936.0,185.6 938.0,184.1 940.0,182.6 942.0,181.1 944.0,179.7 946.0,178.3 948.0,177.0 950.0,175.7 952.0,174.5 954.0,173.4 956.0,172.3 958.0,171.4 960.0,170.5 962.0,169.8 964.0,169.2 966.0,168.6 968.0,168.2 970.0,167.8 972.0,167.5 974.0,167.2 976.0,167.0 978.0,166.8 980.0,166.7 982.0,166.6 984.0,166.5 986.0,166.4 988.0,166.4 990.0,166.4 992.0,166.4 994.0,166.4 996.0,166.5 998.0,166.5 1000.0,166.5 1002.0,166.6 1004.0,166.6 1006.0,166.7 1008.0,166.7 1010.0,166.8 1012.0,166.8 1014.0,166.8 1016.0,166.8 1018.0,166.7 1020.0,166.7 1022.0,166.6 1024.0,166.5 1026.0,166.3 1028.0,166.2 1030.0,166.0 1032.0,165.7 1034.0,165.5 1036.0,165.2 1038.0,164.8 1040.0,164.4 1042.0,164.0 1044.0,163.5 1046.0,163.0 1048.0,162.4 1050.0,161.7 1052.0,161.1 1054.0,160.3 1056.0,159.5 1058.0,158.7 1060.0,157.8 1062.0,156.8 1064.0,155.9 1066.0,155.0 1068.0,154.0 1070.0,153.1 1072.0,152.2 1074.0,151.3 1076.0,150.4 1078.0,149.7 1080.0,148.9 1082.0,148.3 1084.0,147.7 1086.0,147.2 1088.0,146.8 1090.0,146.5 1092.0,146.4 1094.0,146.3 1096.0,146.4 1098.0,146.5 1100.0,146.7 1102.0,147.0 1104.0,147.4 1106.0,147.8 1108.0,148.2 1110.0,148.7 1112.0,149.3 1114.0,149.8 1116.0,150.4 1118.0,151.0 1120.0,151.5 1122.0,152.1 1124.0,152.6 1126.0,153.1 1128.0,153.6 1130.0,154.1 1132.0,154.5 1134.0,154.8 1136.0,155.1 1138.0,155.3 1140.0,155.4 1142.0,155.5 1144.0,155.4 1146.0,155.3 1148.0,155.1 1150.0,154.7 1152.0,154.2 1154.0,153.6 1156.0,152.9 1158.0,152.0 1160.0,151.0 1162.0,150.0 1164.0,148.9 1166.0,147.9 1168.0,147.1 1170.0,146.4 1172.0,146.0 1174.0,145.9 1176.0,146.2 1178.0,146.7 1180.0,147.5 1182.0,148.4 1184.0,149.5 1186.0,150.6 1188.0,151.7 1190.0,152.8 1192.0,153.8 1194.0,154.8 1196.0,155.8 1198.0,156.8 1200.0,157.8 1202.0,158.7 1204.0,159.7 1206.0,160.7 1208.0,161.6 1210.0,162.6 1212.0,163.6 1214.0,164.6 1216.0,165.6 1218.0,166.5 1220.0,167.1 1222.0,167.3 1224.0,167.0 1226.0,166.2 1228.0,165.0 1230.0,163.6 1232.0,162.3 1234.0,161.2 1236.0,160.4 1238.0,160.1 1240.0,160.5 1242.0,161.5 1244.0,162.8 1246.0,164.3 1248.0,165.7 1250.0,167.0 1252.0,168.2 1254.0,169.3 1256.0,170.4 1258.0,171.5 1260.0,172.6 1262.0,173.8 1264.0,175.1 1266.0,176.5 1268.0,178.1 1270.0,179.8 1272.0,181.7 1274.0,183.8 1276.0,185.9 1278.0,188.0 1280.0,189.8" stroke="#891C8B" stroke-width="7.1"/>
</g>
<path d="M894.1,731.5H1021.8" stroke="#0072BD" stroke-width="9.0" stroke-linecap="round"/>
<path d="M893.6,787.5H1022.3" stroke="#F85200" stroke-width="8.0" stroke-linecap="round"/>
<path d="M893.2,843.2H1022.6" stroke="#FFB000" stroke-width="7.3" stroke-linecap="round"/>
<path d="M893.1,899.3H1022.8" stroke="#891C8B" stroke-width="7.1" stroke-linecap="round"/>
</g>
<g filter="url(#b)" fill="#111">
<path d="M201.70,86.10 L194.08,86.10 L194.08,55.53 L185.28,58.50 L183.99,57.11 L183.99,52.36 L197.54,40.29 L199.33,39.70 L201.11,40.00 L201.70,40.89Z"/>
<path fill-rule="evenodd" d="M238.25,63.05 L238.21,67.21 L238.08,69.98 L237.86,72.35 L237.56,74.46 L237.17,76.37 L236.69,78.09 L236.13,79.65 L235.49,81.04 L234.76,82.26 L233.94,83.33 L233.04,84.23 L232.04,84.98 L230.93,85.55 L229.69,85.97 L228.23,86.22 L226.05,86.30 L223.87,86.22 L222.41,85.97 L221.17,85.55 L220.06,84.98 L219.06,84.23 L218.16,83.33 L217.34,82.26 L216.61,81.04 L215.97,79.65 L215.41,78.09 L214.93,76.37 L214.54,74.46 L214.24,72.35 L214.02,69.98 L213.89,67.21 L213.85,63.05 L213.89,58.89 L214.02,56.12 L214.24,53.75 L214.54,51.64 L214.93,49.73 L215.41,48.01 L215.97,46.45 L216.61,45.06 L217.34,43.84 L218.16,42.77 L219.06,41.87 L220.06,41.12 L221.17,40.55 L222.41,40.13 L223.87,39.88 L226.05,39.80 L228.23,39.88 L229.69,40.13 L230.93,40.55 L232.04,41.12 L233.04,41.87 L233.94,42.77 L234.76,43.84 L235.49,45.06 L236.13,46.45 L236.69,48.01 L237.17,49.73 L237.56,51.64 L237.86,53.75 L238.08,56.12 L238.21,58.89Z M230.15,63.05 L230.14,66.45 L230.10,68.51 L230.03,70.23 L229.93,71.74 L229.81,73.08 L229.66,74.28 L229.48,75.36 L229.28,76.32 L229.05,77.16 L228.78,77.89 L228.49,78.50 L228.16,79.00 L227.80,79.40 L227.38,79.68 L226.88,79.84 L226.05,79.90 L225.22,79.84 L224.72,79.68 L224.30,79.40 L223.94,79.00 L223.61,78.50 L223.32,77.89 L223.05,77.16 L222.82,76.32 L222.62,75.36 L222.44,74.28 L222.29,73.08 L222.17,71.74 L222.07,70.23 L222.00,68.51 L221.96,66.45 L221.95,63.05 L221.96,59.65 L222.00,57.59 L222.07,55.87 L222.17,54.36 L222.29,53.02 L222.44,51.82 L222.62,50.74 L222.82,49.78 L223.05,48.94 L223.32,48.21 L223.61,47.60 L223.94,47.10 L224.30,46.70 L224.72,46.42 L225.22,46.26 L226.05,46.20 L226.88,46.26 L227.38,46.42 L227.80,46.70 L228.16,47.10 L228.49,47.60 L228.78,48.21 L229.05,48.94 L229.28,49.78 L229.48,50.74 L229.66,51.82 L229.81,53.02 L229.93,54.36 L230.03,55.87 L230.10,57.59 L230.14,59.65Z"/>
<text transform="translate(241.69,55.10) scale(0.820,1)" style="font-family:&quot;Liberation Sans&quot;,sans-serif;font-weight:bold;font-size:53.0px">2</text>
<path d="M201.70,314.55 L194.08,314.55 L194.08,283.98 L185.28,286.95 L183.99,285.56 L183.99,280.81 L197.54,268.74 L199.33,268.15 L201.11,268.45 L201.70,269.34Z"/>
<path fill-rule="evenodd" d="M238.25,291.50 L238.21,295.66 L238.08,298.43 L237.86,300.80 L237.56,302.91 L237.17,304.82 L236.69,306.54 L236.13,308.10 L235.49,309.49 L234.76,310.71 L233.94,311.78 L233.04,312.68 L232.04,313.43 L230.93,314.00 L229.69,314.42 L228.23,314.67 L226.05,314.75 L223.87,314.67 L222.41,314.42 L221.17,314.00 L220.06,313.43 L219.06,312.68 L218.16,311.78 L217.34,310.71 L216.61,309.49 L215.97,308.10 L215.41,306.54 L214.93,304.82 L214.54,302.91 L214.24,300.80 L214.02,298.43 L213.89,295.66 L213.85,291.50 L213.89,287.34 L214.02,284.57 L214.24,282.20 L214.54,280.09 L214.93,278.18 L215.41,276.46 L215.97,274.90 L216.61,273.51 L217.34,272.29 L218.16,271.22 L219.06,270.32 L220.06,269.57 L221.17,269.00 L222.41,268.58 L223.87,268.33 L226.05,268.25 L228.23,268.33 L229.69,268.58 L230.93,269.00 L232.04,269.57 L233.04,270.32 L233.94,271.22 L234.76,272.29 L235.49,273.51 L236.13,274.90 L236.69,276.46 L237.17,278.18 L237.56,280.09 L237.86,282.20 L238.08,284.57 L238.21,287.34Z M230.15,291.50 L230.14,294.90 L230.10,296.96 L230.03,298.68 L229.93,300.19 L229.81,301.53 L229.66,302.73 L229.48,303.81 L229.28,304.77 L229.05,305.61 L228.78,306.34 L228.49,306.95 L228.16,307.45 L227.80,307.85 L227.38,308.13 L226.88,308.29 L226.05,308.35 L225.22,308.29 L224.72,308.13 L224.30,307.85 L223.94,307.45 L223.61,306.95 L223.32,306.34 L223.05,305.61 L222.82,304.77 L222.62,303.81 L222.44,302.73 L222.29,301.53 L222.17,300.19 L222.07,298.68 L222.00,296.96 L221.96,294.90 L221.95,291.50 L221.96,288.10 L222.00,286.04 L222.07,284.32 L222.17,282.81 L222.29,281.47 L222.44,280.27 L222.62,279.19 L222.82,278.23 L223.05,277.39 L223.32,276.66 L223.61,276.05 L223.94,275.55 L224.30,275.15 L224.72,274.87 L225.22,274.71 L226.05,274.65 L226.88,274.71 L227.38,274.87 L227.80,275.15 L228.16,275.55 L228.49,276.05 L228.78,276.66 L229.05,277.39 L229.28,278.23 L229.48,279.19 L229.66,280.27 L229.81,281.47 L229.93,282.81 L230.03,284.32 L230.10,286.04 L230.14,288.10Z"/>
<path fill-rule="evenodd" d="M263.10,265.05 L263.07,268.38 L262.96,270.59 L262.80,272.49 L262.56,274.18 L262.26,275.71 L261.89,277.08 L261.45,278.33 L260.95,279.44 L260.38,280.42 L259.75,281.27 L259.04,282.00 L258.26,282.59 L257.40,283.05 L256.43,283.38 L255.30,283.58 L253.60,283.65 L251.90,283.58 L250.77,283.38 L249.80,283.05 L248.94,282.59 L248.16,282.00 L247.45,281.27 L246.82,280.42 L246.25,279.44 L245.75,278.33 L245.31,277.08 L244.94,275.71 L244.64,274.18 L244.40,272.49 L244.24,270.59 L244.13,268.38 L244.10,265.05 L244.13,261.72 L244.24,259.51 L244.40,257.61 L244.64,255.92 L244.94,254.39 L245.31,253.02 L245.75,251.77 L246.25,250.66 L246.82,249.68 L247.45,248.83 L248.16,248.10 L248.94,247.51 L249.80,247.05 L250.77,246.72 L251.90,246.52 L253.60,246.45 L255.30,246.52 L256.43,246.72 L257.40,247.05 L258.26,247.51 L259.04,248.10 L259.75,248.83 L260.38,249.68 L260.95,250.66 L261.45,251.77 L261.89,253.02 L262.26,254.39 L262.56,255.92 L262.80,257.61 L262.96,259.51 L263.07,261.72Z M257.10,265.05 L257.09,267.71 L257.05,269.33 L257.00,270.67 L256.91,271.86 L256.81,272.91 L256.68,273.85 L256.53,274.69 L256.36,275.44 L256.16,276.10 L255.93,276.67 L255.68,277.15 L255.40,277.55 L255.09,277.86 L254.73,278.07 L254.31,278.21 L253.60,278.25 L252.89,278.21 L252.47,278.07 L252.11,277.86 L251.80,277.55 L251.52,277.15 L251.27,276.67 L251.04,276.10 L250.84,275.44 L250.67,274.69 L250.52,273.85 L250.39,272.91 L250.29,271.86 L250.20,270.67 L250.15,269.33 L250.11,267.71 L250.10,265.05 L250.11,262.39 L250.15,260.77 L250.20,259.43 L250.29,258.24 L250.39,257.19 L250.52,256.25 L250.67,255.41 L250.84,254.66 L251.04,254.00 L251.27,253.43 L251.52,252.95 L251.80,252.55 L252.11,252.24 L252.47,252.03 L252.89,251.89 L253.60,251.85 L254.31,251.89 L254.73,252.03 L255.09,252.24 L255.40,252.55 L255.68,252.95 L255.93,253.43 L256.16,254.00 L256.36,254.66 L256.53,255.41 L256.68,256.25 L256.81,257.19 L256.91,258.24 L257.00,259.43 L257.05,260.77 L257.09,262.39Z"/>
<path d="M187.80,543.00 L180.18,543.00 L180.18,512.43 L171.38,515.40 L170.09,514.01 L170.09,509.26 L183.64,497.19 L185.43,496.60 L187.21,496.90 L187.80,497.79Z"/>
<path fill-rule="evenodd" d="M224.35,519.95 L224.31,524.11 L224.18,526.88 L223.96,529.25 L223.66,531.36 L223.27,533.27 L222.79,534.99 L222.23,536.55 L221.59,537.94 L220.86,539.16 L220.04,540.23 L219.14,541.13 L218.14,541.88 L217.03,542.45 L215.79,542.87 L214.33,543.12 L212.15,543.20 L209.97,543.12 L208.51,542.87 L207.27,542.45 L206.16,541.88 L205.16,541.13 L204.26,540.23 L203.44,539.16 L202.71,537.94 L202.07,536.55 L201.51,534.99 L201.03,533.27 L200.64,531.36 L200.34,529.25 L200.12,526.88 L199.99,524.11 L199.95,519.95 L199.99,515.79 L200.12,513.02 L200.34,510.65 L200.64,508.54 L201.03,506.63 L201.51,504.91 L202.07,503.35 L202.71,501.96 L203.44,500.74 L204.26,499.67 L205.16,498.77 L206.16,498.02 L207.27,497.45 L208.51,497.03 L209.97,496.78 L212.15,496.70 L214.33,496.78 L215.79,497.03 L217.03,497.45 L218.14,498.02 L219.14,498.77 L220.04,499.67 L220.86,500.74 L221.59,501.96 L222.23,503.35 L222.79,504.91 L223.27,506.63 L223.66,508.54 L223.96,510.65 L224.18,513.02 L224.31,515.79Z M216.25,519.95 L216.24,523.35 L216.20,525.41 L216.13,527.13 L216.03,528.64 L215.91,529.98 L215.76,531.18 L215.58,532.26 L215.38,533.22 L215.15,534.06 L214.88,534.79 L214.59,535.40 L214.26,535.90 L213.90,536.30 L213.48,536.58 L212.98,536.74 L212.15,536.80 L211.32,536.74 L210.82,536.58 L210.40,536.30 L210.04,535.90 L209.71,535.40 L209.42,534.79 L209.15,534.06 L208.92,533.22 L208.72,532.26 L208.54,531.18 L208.39,529.98 L208.27,528.64 L208.17,527.13 L208.10,525.41 L208.06,523.35 L208.05,519.95 L208.06,516.55 L208.10,514.49 L208.17,512.77 L208.27,511.26 L208.39,509.92 L208.54,508.72 L208.72,507.64 L208.92,506.68 L209.15,505.84 L209.42,505.11 L209.71,504.50 L210.04,504.00 L210.40,503.60 L210.82,503.32 L211.32,503.16 L212.15,503.10 L212.98,503.16 L213.48,503.32 L213.90,503.60 L214.26,504.00 L214.59,504.50 L214.88,505.11 L215.15,505.84 L215.38,506.68 L215.58,507.64 L215.76,508.72 L215.91,509.92 L216.03,511.26 L216.13,512.77 L216.20,514.49 L216.24,516.55Z"/>
<text transform="translate(226.50,512.60) scale(0.820,1)" style="font-family:&quot;Liberation Sans&quot;,sans-serif;font-weight:bold;font-size:53.0px">-</text>
<text transform="translate(242.19,512.00) scale(0.820,1)" style="font-family:&quot;Liberation Sans&quot;,sans-serif;font-weight:bold;font-size:53.0px">2</text>
<path d="M187.80,771.45 L180.18,771.45 L180.18,740.88 L171.38,743.85 L170.09,742.46 L170.09,737.71 L183.64,725.64 L185.43,725.05 L187.21,725.35 L187.80,726.24Z"/>
<path fill-rule="evenodd" d="M224.35,748.40 L224.31,752.56 L224.18,755.33 L223.96,757.70 L223.66,759.81 L223.27,761.72 L222.79,763.44 L222.23,765.00 L221.59,766.39 L220.86,767.61 L220.04,768.68 L219.14,769.58 L218.14,770.33 L217.03,770.90 L215.79,771.32 L214.33,771.57 L212.15,771.65 L209.97,771.57 L208.51,771.32 L207.27,770.90 L206.16,770.33 L205.16,769.58 L204.26,768.68 L203.44,767.61 L202.71,766.39 L202.07,765.00 L201.51,763.44 L201.03,761.72 L200.64,759.81 L200.34,757.70 L200.12,755.33 L199.99,752.56 L199.95,748.40 L199.99,744.24 L200.12,741.47 L200.34,739.10 L200.64,736.99 L201.03,735.08 L201.51,733.36 L202.07,731.80 L202.71,730.41 L203.44,729.19 L204.26,728.12 L205.16,727.22 L206.16,726.47 L207.27,725.90 L208.51,725.48 L209.97,725.23 L212.15,725.15 L214.33,725.23 L215.79,725.48 L217.03,725.90 L218.14,726.47 L219.14,727.22 L220.04,728.12 L220.86,729.19 L221.59,730.41 L222.23,731.80 L222.79,733.36 L223.27,735.08 L223.66,736.99 L223.96,739.10 L224.18,741.47 L224.31,744.24Z M216.25,748.40 L216.24,751.80 L216.20,753.86 L216.13,755.58 L216.03,757.09 L215.91,758.43 L215.76,759.63 L215.58,760.71 L215.38,761.67 L215.15,762.51 L214.88,763.24 L214.59,763.85 L214.26,764.35 L213.90,764.75 L213.48,765.03 L212.98,765.19 L212.15,765.25 L211.32,765.19 L210.82,765.03 L210.40,764.75 L210.04,764.35 L209.71,763.85 L209.42,763.24 L209.15,762.51 L208.92,761.67 L208.72,760.71 L208.54,759.63 L208.39,758.43 L208.27,757.09 L208.17,755.58 L208.10,753.86 L208.06,751.80 L208.05,748.40 L208.06,745.00 L208.10,742.94 L208.17,741.22 L208.27,739.71 L208.39,738.37 L208.54,737.17 L208.72,736.09 L208.92,735.13 L209.15,734.29 L209.42,733.56 L209.71,732.95 L210.04,732.45 L210.40,732.05 L210.82,731.77 L211.32,731.61 L212.15,731.55 L212.98,731.61 L213.48,731.77 L213.90,732.05 L214.26,732.45 L214.59,732.95 L214.88,733.56 L215.15,734.29 L215.38,735.13 L215.58,736.09 L215.76,737.17 L215.91,738.37 L216.03,739.71 L216.13,741.22 L216.20,742.94 L216.24,745.00Z"/>
<text transform="translate(226.50,741.05) scale(0.820,1)" style="font-family:&quot;Liberation Sans&quot;,sans-serif;font-weight:bold;font-size:53.0px">-</text>
<text transform="translate(243.18,740.45) scale(0.740,1)" style="font-family:&quot;Liberation Sans&quot;,sans-serif;font-weight:bold;font-size:53.0px">4</text>
<path d="M187.80,999.90 L180.18,999.90 L180.18,969.33 L171.38,972.30 L170.09,970.91 L170.09,966.16 L183.64,954.09 L185.43,953.50 L187.21,953.80 L187.80,954.69Z"/>
<path fill-rule="evenodd" d="M224.35,976.85 L224.31,981.01 L224.18,983.78 L223.96,986.15 L223.66,988.26 L223.27,990.17 L222.79,991.89 L222.23,993.45 L221.59,994.84 L220.86,996.06 L220.04,997.13 L219.14,998.03 L218.14,998.78 L217.03,999.35 L215.79,999.77 L214.33,1000.02 L212.15,1000.10 L209.97,1000.02 L208.51,999.77 L207.27,999.35 L206.16,998.78 L205.16,998.03 L204.26,997.13 L203.44,996.06 L202.71,994.84 L202.07,993.45 L201.51,991.89 L201.03,990.17 L200.64,988.26 L200.34,986.15 L200.12,983.78 L199.99,981.01 L199.95,976.85 L199.99,972.69 L200.12,969.92 L200.34,967.55 L200.64,965.44 L201.03,963.53 L201.51,961.81 L202.07,960.25 L202.71,958.86 L203.44,957.64 L204.26,956.57 L205.16,955.67 L206.16,954.92 L207.27,954.35 L208.51,953.93 L209.97,953.68 L212.15,953.60 L214.33,953.68 L215.79,953.93 L217.03,954.35 L218.14,954.92 L219.14,955.67 L220.04,956.57 L220.86,957.64 L221.59,958.86 L222.23,960.25 L222.79,961.81 L223.27,963.53 L223.66,965.44 L223.96,967.55 L224.18,969.92 L224.31,972.69Z M216.25,976.85 L216.24,980.25 L216.20,982.31 L216.13,984.03 L216.03,985.54 L215.91,986.88 L215.76,988.08 L215.58,989.16 L215.38,990.12 L215.15,990.96 L214.88,991.69 L214.59,992.30 L214.26,992.80 L213.90,993.20 L213.48,993.48 L212.98,993.64 L212.15,993.70 L211.32,993.64 L210.82,993.48 L210.40,993.20 L210.04,992.80 L209.71,992.30 L209.42,991.69 L209.15,990.96 L208.92,990.12 L208.72,989.16 L208.54,988.08 L208.39,986.88 L208.27,985.54 L208.17,984.03 L208.10,982.31 L208.06,980.25 L208.05,976.85 L208.06,973.45 L208.10,971.39 L208.17,969.67 L208.27,968.16 L208.39,966.82 L208.54,965.62 L208.72,964.54 L208.92,963.58 L209.15,962.74 L209.42,962.01 L209.71,961.40 L210.04,960.90 L210.40,960.50 L210.82,960.22 L211.32,960.06 L212.15,960.00 L212.98,960.06 L213.48,960.22 L213.90,960.50 L214.26,960.90 L214.59,961.40 L214.88,962.01 L215.15,962.74 L215.38,963.58 L215.58,964.54 L215.76,965.62 L215.91,966.82 L216.03,968.16 L216.13,969.67 L216.20,971.39 L216.24,973.45Z"/>
<text transform="translate(226.50,969.50) scale(0.820,1)" style="font-family:&quot;Liberation Sans&quot;,sans-serif;font-weight:bold;font-size:53.0px">-</text>
<text transform="translate(242.09,968.90) scale(0.820,1)" style="font-family:&quot;Liberation Sans&quot;,sans-serif;font-weight:bold;font-size:53.0px">6</text>
<path d="M285.00,1049.40 L277.25,1049.40 L277.25,1018.30 L268.29,1021.32 L266.99,1019.91 L266.99,1015.08 L280.77,1002.80 L282.58,1002.20 L284.40,1002.50 L285.00,1003.41Z"/>
<path d="M1042.50,1049.00 L1034.85,1049.00 L1034.85,1018.30 L1026.01,1021.28 L1024.71,1019.89 L1024.71,1015.12 L1038.33,1003.00 L1040.12,1002.40 L1041.90,1002.70 L1042.50,1003.59Z"/>
<path fill-rule="evenodd" d="M1079.30,1026.00 L1079.26,1030.19 L1079.13,1032.97 L1078.91,1035.36 L1078.61,1037.49 L1078.22,1039.41 L1077.75,1041.14 L1077.20,1042.70 L1076.56,1044.10 L1075.84,1045.34 L1075.03,1046.41 L1074.13,1047.32 L1073.14,1048.07 L1072.04,1048.65 L1070.81,1049.07 L1069.37,1049.32 L1067.20,1049.40 L1065.03,1049.32 L1063.59,1049.07 L1062.36,1048.65 L1061.26,1048.07 L1060.27,1047.32 L1059.37,1046.41 L1058.56,1045.34 L1057.84,1044.10 L1057.20,1042.70 L1056.65,1041.14 L1056.18,1039.41 L1055.79,1037.49 L1055.49,1035.36 L1055.27,1032.97 L1055.14,1030.19 L1055.10,1026.00 L1055.14,1021.81 L1055.27,1019.03 L1055.49,1016.64 L1055.79,1014.51 L1056.18,1012.59 L1056.65,1010.86 L1057.20,1009.30 L1057.84,1007.90 L1058.56,1006.66 L1059.37,1005.59 L1060.27,1004.68 L1061.26,1003.93 L1062.36,1003.35 L1063.59,1002.93 L1065.03,1002.68 L1067.20,1002.60 L1069.37,1002.68 L1070.81,1002.93 L1072.04,1003.35 L1073.14,1003.93 L1074.13,1004.68 L1075.03,1005.59 L1075.84,1006.66 L1076.56,1007.90 L1077.20,1009.30 L1077.75,1010.86 L1078.22,1012.59 L1078.61,1014.51 L1078.91,1016.64 L1079.13,1019.03 L1079.26,1021.81Z M1071.20,1026.00 L1071.19,1029.43 L1071.15,1031.51 L1071.08,1033.24 L1070.99,1034.77 L1070.87,1036.12 L1070.72,1037.33 L1070.55,1038.42 L1070.35,1039.39 L1070.12,1040.23 L1069.87,1040.97 L1069.58,1041.59 L1069.26,1042.10 L1068.90,1042.49 L1068.50,1042.77 L1068.01,1042.94 L1067.20,1043.00 L1066.39,1042.94 L1065.90,1042.77 L1065.50,1042.49 L1065.14,1042.10 L1064.82,1041.59 L1064.53,1040.97 L1064.28,1040.23 L1064.05,1039.39 L1063.85,1038.42 L1063.68,1037.33 L1063.53,1036.12 L1063.41,1034.77 L1063.32,1033.24 L1063.25,1031.51 L1063.21,1029.43 L1063.20,1026.00 L1063.21,1022.57 L1063.25,1020.49 L1063.32,1018.76 L1063.41,1017.23 L1063.53,1015.88 L1063.68,1014.67 L1063.85,1013.58 L1064.05,1012.61 L1064.28,1011.77 L1064.53,1011.03 L1064.82,1010.41 L1065.14,1009.90 L1065.50,1009.51 L1065.90,1009.23 L1066.39,1009.06 L1067.20,1009.00 L1068.01,1009.06 L1068.50,1009.23 L1068.90,1009.51 L1069.26,1009.90 L1069.58,1010.41 L1069.87,1011.03 L1070.12,1011.77 L1070.35,1012.61 L1070.55,1013.58 L1070.72,1014.67 L1070.87,1015.88 L1070.99,1017.23 L1071.08,1018.76 L1071.15,1020.49 L1071.19,1022.57Z"/>
<text transform="translate(690.2,1130.3) scale(0.854,1)" style="font-family:&quot;Liberation Sans&quot;,sans-serif;font-weight:bold;font-style:italic;font-size:70px">f <tspan style="font-weight:normal">/</tspan> GHz</text>
<path d="M1052.70,750.70 L1048.23,750.70 L1048.23,732.78 L1043.07,734.52 L1042.32,733.71 L1042.32,730.92 L1050.26,723.85 L1051.31,723.50 L1052.35,723.67 L1052.70,724.20Z"/>
<path fill-rule="evenodd" d="M1073.15,736.85 L1073.12,739.36 L1073.05,741.02 L1072.91,742.45 L1072.73,743.72 L1072.50,744.87 L1072.21,745.91 L1071.87,746.84 L1071.49,747.68 L1071.05,748.42 L1070.56,749.06 L1070.01,749.61 L1069.41,750.05 L1068.74,750.40 L1067.99,750.65 L1067.12,750.80 L1065.80,750.85 L1064.48,750.80 L1063.61,750.65 L1062.86,750.40 L1062.19,750.05 L1061.59,749.61 L1061.04,749.06 L1060.55,748.42 L1060.11,747.68 L1059.73,746.84 L1059.39,745.91 L1059.10,744.87 L1058.87,743.72 L1058.69,742.45 L1058.55,741.02 L1058.48,739.36 L1058.45,736.85 L1058.48,734.34 L1058.55,732.68 L1058.69,731.25 L1058.87,729.98 L1059.10,728.83 L1059.39,727.79 L1059.73,726.86 L1060.11,726.02 L1060.55,725.28 L1061.04,724.64 L1061.59,724.09 L1062.19,723.65 L1062.86,723.30 L1063.61,723.05 L1064.48,722.90 L1065.80,722.85 L1067.12,722.90 L1067.99,723.05 L1068.74,723.30 L1069.41,723.65 L1070.01,724.09 L1070.56,724.64 L1071.05,725.28 L1071.49,726.02 L1071.87,726.86 L1072.21,727.79 L1072.50,728.83 L1072.73,729.98 L1072.91,731.25 L1073.05,732.68 L1073.12,734.34Z M1068.25,736.85 L1068.24,738.87 L1068.22,740.09 L1068.18,741.11 L1068.12,742.01 L1068.05,742.80 L1067.96,743.52 L1067.85,744.16 L1067.73,744.72 L1067.59,745.22 L1067.43,745.65 L1067.26,746.02 L1067.06,746.32 L1066.84,746.55 L1066.59,746.72 L1066.29,746.82 L1065.80,746.85 L1065.31,746.82 L1065.01,746.72 L1064.76,746.55 L1064.54,746.32 L1064.34,746.02 L1064.17,745.65 L1064.01,745.22 L1063.87,744.72 L1063.75,744.16 L1063.64,743.52 L1063.55,742.80 L1063.48,742.01 L1063.42,741.11 L1063.38,740.09 L1063.36,738.87 L1063.35,736.85 L1063.36,734.83 L1063.38,733.61 L1063.42,732.59 L1063.48,731.69 L1063.55,730.90 L1063.64,730.18 L1063.75,729.54 L1063.87,728.98 L1064.01,728.48 L1064.17,728.05 L1064.34,727.68 L1064.54,727.38 L1064.76,727.15 L1065.01,726.98 L1065.31,726.88 L1065.80,726.85 L1066.29,726.88 L1066.59,726.98 L1066.84,727.15 L1067.06,727.38 L1067.26,727.68 L1067.43,728.05 L1067.59,728.48 L1067.73,728.98 L1067.85,729.54 L1067.96,730.18 L1068.05,730.90 L1068.12,731.69 L1068.18,732.59 L1068.22,733.61 L1068.24,734.83Z"/>
<text transform="translate(1074.08,750.70) scale(0.880,1)" style="font-family:&quot;Liberation Sans&quot;,sans-serif;font-weight:bold;font-size:37.8px">/</text>
<text transform="translate(1082.70,750.70) scale(0.883,1)" style="font-family:&quot;Liberation Sans&quot;,sans-serif;font-weight:bold;font-size:37.8px">m</text>
<text transform="translate(1111.80,731.50) scale(0.880,1)" style="font-family:&quot;Liberation Sans&quot;,sans-serif;font-weight:bold;font-size:29.5px">3</text>
<path d="M1052.70,806.33 L1048.23,806.33 L1048.23,788.41 L1043.07,790.15 L1042.32,789.34 L1042.32,786.55 L1050.26,779.48 L1051.31,779.13 L1052.35,779.30 L1052.70,779.83Z"/>
<path fill-rule="evenodd" d="M1073.15,792.48 L1073.12,794.99 L1073.05,796.65 L1072.91,798.08 L1072.73,799.35 L1072.50,800.50 L1072.21,801.54 L1071.87,802.47 L1071.49,803.31 L1071.05,804.05 L1070.56,804.69 L1070.01,805.24 L1069.41,805.68 L1068.74,806.03 L1067.99,806.28 L1067.12,806.43 L1065.80,806.48 L1064.48,806.43 L1063.61,806.28 L1062.86,806.03 L1062.19,805.68 L1061.59,805.24 L1061.04,804.69 L1060.55,804.05 L1060.11,803.31 L1059.73,802.47 L1059.39,801.54 L1059.10,800.50 L1058.87,799.35 L1058.69,798.08 L1058.55,796.65 L1058.48,794.99 L1058.45,792.48 L1058.48,789.97 L1058.55,788.31 L1058.69,786.88 L1058.87,785.61 L1059.10,784.46 L1059.39,783.42 L1059.73,782.49 L1060.11,781.65 L1060.55,780.91 L1061.04,780.27 L1061.59,779.72 L1062.19,779.28 L1062.86,778.93 L1063.61,778.68 L1064.48,778.53 L1065.80,778.48 L1067.12,778.53 L1067.99,778.68 L1068.74,778.93 L1069.41,779.28 L1070.01,779.72 L1070.56,780.27 L1071.05,780.91 L1071.49,781.65 L1071.87,782.49 L1072.21,783.42 L1072.50,784.46 L1072.73,785.61 L1072.91,786.88 L1073.05,788.31 L1073.12,789.97Z M1068.25,792.48 L1068.24,794.50 L1068.22,795.72 L1068.18,796.74 L1068.12,797.64 L1068.05,798.43 L1067.96,799.15 L1067.85,799.79 L1067.73,800.35 L1067.59,800.85 L1067.43,801.28 L1067.26,801.65 L1067.06,801.95 L1066.84,802.18 L1066.59,802.35 L1066.29,802.45 L1065.80,802.48 L1065.31,802.45 L1065.01,802.35 L1064.76,802.18 L1064.54,801.95 L1064.34,801.65 L1064.17,801.28 L1064.01,800.85 L1063.87,800.35 L1063.75,799.79 L1063.64,799.15 L1063.55,798.43 L1063.48,797.64 L1063.42,796.74 L1063.38,795.72 L1063.36,794.50 L1063.35,792.48 L1063.36,790.46 L1063.38,789.24 L1063.42,788.22 L1063.48,787.32 L1063.55,786.53 L1063.64,785.81 L1063.75,785.17 L1063.87,784.61 L1064.01,784.11 L1064.17,783.68 L1064.34,783.31 L1064.54,783.01 L1064.76,782.78 L1065.01,782.61 L1065.31,782.51 L1065.80,782.48 L1066.29,782.51 L1066.59,782.61 L1066.84,782.78 L1067.06,783.01 L1067.26,783.31 L1067.43,783.68 L1067.59,784.11 L1067.73,784.61 L1067.85,785.17 L1067.96,785.81 L1068.05,786.53 L1068.12,787.32 L1068.18,788.22 L1068.22,789.24 L1068.24,790.46Z"/>
<path fill-rule="evenodd" d="M1091.05,792.48 L1091.02,794.99 L1090.95,796.65 L1090.81,798.08 L1090.63,799.35 L1090.40,800.50 L1090.11,801.54 L1089.77,802.47 L1089.39,803.31 L1088.95,804.05 L1088.46,804.69 L1087.91,805.24 L1087.31,805.68 L1086.64,806.03 L1085.89,806.28 L1085.02,806.43 L1083.70,806.48 L1082.38,806.43 L1081.51,806.28 L1080.76,806.03 L1080.09,805.68 L1079.49,805.24 L1078.94,804.69 L1078.45,804.05 L1078.01,803.31 L1077.63,802.47 L1077.29,801.54 L1077.00,800.50 L1076.77,799.35 L1076.59,798.08 L1076.45,796.65 L1076.38,794.99 L1076.35,792.48 L1076.38,789.97 L1076.45,788.31 L1076.59,786.88 L1076.77,785.61 L1077.00,784.46 L1077.29,783.42 L1077.63,782.49 L1078.01,781.65 L1078.45,780.91 L1078.94,780.27 L1079.49,779.72 L1080.09,779.28 L1080.76,778.93 L1081.51,778.68 L1082.38,778.53 L1083.70,778.48 L1085.02,778.53 L1085.89,778.68 L1086.64,778.93 L1087.31,779.28 L1087.91,779.72 L1088.46,780.27 L1088.95,780.91 L1089.39,781.65 L1089.77,782.49 L1090.11,783.42 L1090.40,784.46 L1090.63,785.61 L1090.81,786.88 L1090.95,788.31 L1091.02,789.97Z M1086.15,792.48 L1086.14,794.50 L1086.12,795.72 L1086.08,796.74 L1086.02,797.64 L1085.95,798.43 L1085.86,799.15 L1085.75,799.79 L1085.63,800.35 L1085.49,800.85 L1085.33,801.28 L1085.16,801.65 L1084.96,801.95 L1084.74,802.18 L1084.49,802.35 L1084.19,802.45 L1083.70,802.48 L1083.21,802.45 L1082.91,802.35 L1082.66,802.18 L1082.44,801.95 L1082.24,801.65 L1082.07,801.28 L1081.91,800.85 L1081.77,800.35 L1081.65,799.79 L1081.54,799.15 L1081.45,798.43 L1081.38,797.64 L1081.32,796.74 L1081.28,795.72 L1081.26,794.50 L1081.25,792.48 L1081.26,790.46 L1081.28,789.24 L1081.32,788.22 L1081.38,787.32 L1081.45,786.53 L1081.54,785.81 L1081.65,785.17 L1081.77,784.61 L1081.91,784.11 L1082.07,783.68 L1082.24,783.31 L1082.44,783.01 L1082.66,782.78 L1082.91,782.61 L1083.21,782.51 L1083.70,782.48 L1084.19,782.51 L1084.49,782.61 L1084.74,782.78 L1084.96,783.01 L1085.16,783.31 L1085.33,783.68 L1085.49,784.11 L1085.63,784.61 L1085.75,785.17 L1085.86,785.81 L1085.95,786.53 L1086.02,787.32 L1086.08,788.22 L1086.12,789.24 L1086.14,790.46Z"/>
<text transform="translate(1091.98,806.33) scale(0.880,1)" style="font-family:&quot;Liberation Sans&quot;,sans-serif;font-weight:bold;font-size:37.8px">/</text>
<text transform="translate(1100.60,806.33) scale(0.883,1)" style="font-family:&quot;Liberation Sans&quot;,sans-serif;font-weight:bold;font-size:37.8px">m</text>
<text transform="translate(1129.70,787.13) scale(0.880,1)" style="font-family:&quot;Liberation Sans&quot;,sans-serif;font-weight:bold;font-size:29.5px">3</text>
<path d="M1052.70,861.96 L1048.23,861.96 L1048.23,844.04 L1043.07,845.78 L1042.32,844.97 L1042.32,842.18 L1050.26,835.11 L1051.31,834.76 L1052.35,834.93 L1052.70,835.46Z"/>
<path fill-rule="evenodd" d="M1073.15,848.11 L1073.12,850.62 L1073.05,852.28 L1072.91,853.71 L1072.73,854.98 L1072.50,856.13 L1072.21,857.17 L1071.87,858.10 L1071.49,858.94 L1071.05,859.68 L1070.56,860.32 L1070.01,860.87 L1069.41,861.31 L1068.74,861.66 L1067.99,861.91 L1067.12,862.06 L1065.80,862.11 L1064.48,862.06 L1063.61,861.91 L1062.86,861.66 L1062.19,861.31 L1061.59,860.87 L1061.04,860.32 L1060.55,859.68 L1060.11,858.94 L1059.73,858.10 L1059.39,857.17 L1059.10,856.13 L1058.87,854.98 L1058.69,853.71 L1058.55,852.28 L1058.48,850.62 L1058.45,848.11 L1058.48,845.60 L1058.55,843.94 L1058.69,842.51 L1058.87,841.24 L1059.10,840.09 L1059.39,839.05 L1059.73,838.12 L1060.11,837.28 L1060.55,836.54 L1061.04,835.90 L1061.59,835.35 L1062.19,834.91 L1062.86,834.56 L1063.61,834.31 L1064.48,834.16 L1065.80,834.11 L1067.12,834.16 L1067.99,834.31 L1068.74,834.56 L1069.41,834.91 L1070.01,835.35 L1070.56,835.90 L1071.05,836.54 L1071.49,837.28 L1071.87,838.12 L1072.21,839.05 L1072.50,840.09 L1072.73,841.24 L1072.91,842.51 L1073.05,843.94 L1073.12,845.60Z M1068.25,848.11 L1068.24,850.13 L1068.22,851.35 L1068.18,852.37 L1068.12,853.27 L1068.05,854.06 L1067.96,854.78 L1067.85,855.42 L1067.73,855.98 L1067.59,856.48 L1067.43,856.91 L1067.26,857.28 L1067.06,857.58 L1066.84,857.81 L1066.59,857.98 L1066.29,858.08 L1065.80,858.11 L1065.31,858.08 L1065.01,857.98 L1064.76,857.81 L1064.54,857.58 L1064.34,857.28 L1064.17,856.91 L1064.01,856.48 L1063.87,855.98 L1063.75,855.42 L1063.64,854.78 L1063.55,854.06 L1063.48,853.27 L1063.42,852.37 L1063.38,851.35 L1063.36,850.13 L1063.35,848.11 L1063.36,846.09 L1063.38,844.87 L1063.42,843.85 L1063.48,842.95 L1063.55,842.16 L1063.64,841.44 L1063.75,840.80 L1063.87,840.24 L1064.01,839.74 L1064.17,839.31 L1064.34,838.94 L1064.54,838.64 L1064.76,838.41 L1065.01,838.24 L1065.31,838.14 L1065.80,838.11 L1066.29,838.14 L1066.59,838.24 L1066.84,838.41 L1067.06,838.64 L1067.26,838.94 L1067.43,839.31 L1067.59,839.74 L1067.73,840.24 L1067.85,840.80 L1067.96,841.44 L1068.05,842.16 L1068.12,842.95 L1068.18,843.85 L1068.22,844.87 L1068.24,846.09Z"/>
<path fill-rule="evenodd" d="M1091.05,848.11 L1091.02,850.62 L1090.95,852.28 L1090.81,853.71 L1090.63,854.98 L1090.40,856.13 L1090.11,857.17 L1089.77,858.10 L1089.39,858.94 L1088.95,859.68 L1088.46,860.32 L1087.91,860.87 L1087.31,861.31 L1086.64,861.66 L1085.89,861.91 L1085.02,862.06 L1083.70,862.11 L1082.38,862.06 L1081.51,861.91 L1080.76,861.66 L1080.09,861.31 L1079.49,860.87 L1078.94,860.32 L1078.45,859.68 L1078.01,858.94 L1077.63,858.10 L1077.29,857.17 L1077.00,856.13 L1076.77,854.98 L1076.59,853.71 L1076.45,852.28 L1076.38,850.62 L1076.35,848.11 L1076.38,845.60 L1076.45,843.94 L1076.59,842.51 L1076.77,841.24 L1077.00,840.09 L1077.29,839.05 L1077.63,838.12 L1078.01,837.28 L1078.45,836.54 L1078.94,835.90 L1079.49,835.35 L1080.09,834.91 L1080.76,834.56 L1081.51,834.31 L1082.38,834.16 L1083.70,834.11 L1085.02,834.16 L1085.89,834.31 L1086.64,834.56 L1087.31,834.91 L1087.91,835.35 L1088.46,835.90 L1088.95,836.54 L1089.39,837.28 L1089.77,838.12 L1090.11,839.05 L1090.40,840.09 L1090.63,841.24 L1090.81,842.51 L1090.95,843.94 L1091.02,845.60Z M1086.15,848.11 L1086.14,850.13 L1086.12,851.35 L1086.08,852.37 L1086.02,853.27 L1085.95,854.06 L1085.86,854.78 L1085.75,855.42 L1085.63,855.98 L1085.49,856.48 L1085.33,856.91 L1085.16,857.28 L1084.96,857.58 L1084.74,857.81 L1084.49,857.98 L1084.19,858.08 L1083.70,858.11 L1083.21,858.08 L1082.91,857.98 L1082.66,857.81 L1082.44,857.58 L1082.24,857.28 L1082.07,856.91 L1081.91,856.48 L1081.77,855.98 L1081.65,855.42 L1081.54,854.78 L1081.45,854.06 L1081.38,853.27 L1081.32,852.37 L1081.28,851.35 L1081.26,850.13 L1081.25,848.11 L1081.26,846.09 L1081.28,844.87 L1081.32,843.85 L1081.38,842.95 L1081.45,842.16 L1081.54,841.44 L1081.65,840.80 L1081.77,840.24 L1081.91,839.74 L1082.07,839.31 L1082.24,838.94 L1082.44,838.64 L1082.66,838.41 L1082.91,838.24 L1083.21,838.14 L1083.70,838.11 L1084.19,838.14 L1084.49,838.24 L1084.74,838.41 L1084.96,838.64 L1085.16,838.94 L1085.33,839.31 L1085.49,839.74 L1085.63,840.24 L1085.75,840.80 L1085.86,841.44 L1085.95,842.16 L1086.02,842.95 L1086.08,843.85 L1086.12,844.87 L1086.14,846.09Z"/>
<path fill-rule="evenodd" d="M1108.95,848.11 L1108.92,850.62 L1108.85,852.28 L1108.71,853.71 L1108.53,854.98 L1108.30,856.13 L1108.01,857.17 L1107.67,858.10 L1107.29,858.94 L1106.85,859.68 L1106.36,860.32 L1105.81,860.87 L1105.21,861.31 L1104.54,861.66 L1103.79,861.91 L1102.92,862.06 L1101.60,862.11 L1100.28,862.06 L1099.41,861.91 L1098.66,861.66 L1097.99,861.31 L1097.39,860.87 L1096.84,860.32 L1096.35,859.68 L1095.91,858.94 L1095.53,858.10 L1095.19,857.17 L1094.90,856.13 L1094.67,854.98 L1094.49,853.71 L1094.35,852.28 L1094.28,850.62 L1094.25,848.11 L1094.28,845.60 L1094.35,843.94 L1094.49,842.51 L1094.67,841.24 L1094.90,840.09 L1095.19,839.05 L1095.53,838.12 L1095.91,837.28 L1096.35,836.54 L1096.84,835.90 L1097.39,835.35 L1097.99,834.91 L1098.66,834.56 L1099.41,834.31 L1100.28,834.16 L1101.60,834.11 L1102.92,834.16 L1103.79,834.31 L1104.54,834.56 L1105.21,834.91 L1105.81,835.35 L1106.36,835.90 L1106.85,836.54 L1107.29,837.28 L1107.67,838.12 L1108.01,839.05 L1108.30,840.09 L1108.53,841.24 L1108.71,842.51 L1108.85,843.94 L1108.92,845.60Z M1104.05,848.11 L1104.04,850.13 L1104.02,851.35 L1103.98,852.37 L1103.92,853.27 L1103.85,854.06 L1103.76,854.78 L1103.65,855.42 L1103.53,855.98 L1103.39,856.48 L1103.23,856.91 L1103.06,857.28 L1102.86,857.58 L1102.64,857.81 L1102.39,857.98 L1102.09,858.08 L1101.60,858.11 L1101.11,858.08 L1100.81,857.98 L1100.56,857.81 L1100.34,857.58 L1100.14,857.28 L1099.97,856.91 L1099.81,856.48 L1099.67,855.98 L1099.55,855.42 L1099.44,854.78 L1099.35,854.06 L1099.28,853.27 L1099.22,852.37 L1099.18,851.35 L1099.16,850.13 L1099.15,848.11 L1099.16,846.09 L1099.18,844.87 L1099.22,843.85 L1099.28,842.95 L1099.35,842.16 L1099.44,841.44 L1099.55,840.80 L1099.67,840.24 L1099.81,839.74 L1099.97,839.31 L1100.14,838.94 L1100.34,838.64 L1100.56,838.41 L1100.81,838.24 L1101.11,838.14 L1101.60,838.11 L1102.09,838.14 L1102.39,838.24 L1102.64,838.41 L1102.86,838.64 L1103.06,838.94 L1103.23,839.31 L1103.39,839.74 L1103.53,840.24 L1103.65,840.80 L1103.76,841.44 L1103.85,842.16 L1103.92,842.95 L1103.98,843.85 L1104.02,844.87 L1104.04,846.09Z"/>
<text transform="translate(1109.88,861.96) scale(0.880,1)" style="font-family:&quot;Liberation Sans&quot;,sans-serif;font-weight:bold;font-size:37.8px">/</text>
<text transform="translate(1118.50,861.96) scale(0.883,1)" style="font-family:&quot;Liberation Sans&quot;,sans-serif;font-weight:bold;font-size:37.8px">m</text>
<text transform="translate(1147.60,842.76) scale(0.880,1)" style="font-family:&quot;Liberation Sans&quot;,sans-serif;font-weight:bold;font-size:29.5px">3</text>
<path d="M1052.70,917.59 L1048.23,917.59 L1048.23,899.67 L1043.07,901.41 L1042.32,900.60 L1042.32,897.81 L1050.26,890.74 L1051.31,890.39 L1052.35,890.56 L1052.70,891.09Z"/>
<path fill-rule="evenodd" d="M1073.15,903.74 L1073.12,906.25 L1073.05,907.91 L1072.91,909.34 L1072.73,910.61 L1072.50,911.76 L1072.21,912.80 L1071.87,913.73 L1071.49,914.57 L1071.05,915.31 L1070.56,915.95 L1070.01,916.50 L1069.41,916.94 L1068.74,917.29 L1067.99,917.54 L1067.12,917.69 L1065.80,917.74 L1064.48,917.69 L1063.61,917.54 L1062.86,917.29 L1062.19,916.94 L1061.59,916.50 L1061.04,915.95 L1060.55,915.31 L1060.11,914.57 L1059.73,913.73 L1059.39,912.80 L1059.10,911.76 L1058.87,910.61 L1058.69,909.34 L1058.55,907.91 L1058.48,906.25 L1058.45,903.74 L1058.48,901.23 L1058.55,899.57 L1058.69,898.14 L1058.87,896.87 L1059.10,895.72 L1059.39,894.68 L1059.73,893.75 L1060.11,892.91 L1060.55,892.17 L1061.04,891.53 L1061.59,890.98 L1062.19,890.54 L1062.86,890.19 L1063.61,889.94 L1064.48,889.79 L1065.80,889.74 L1067.12,889.79 L1067.99,889.94 L1068.74,890.19 L1069.41,890.54 L1070.01,890.98 L1070.56,891.53 L1071.05,892.17 L1071.49,892.91 L1071.87,893.75 L1072.21,894.68 L1072.50,895.72 L1072.73,896.87 L1072.91,898.14 L1073.05,899.57 L1073.12,901.23Z M1068.25,903.74 L1068.24,905.76 L1068.22,906.98 L1068.18,908.00 L1068.12,908.90 L1068.05,909.69 L1067.96,910.41 L1067.85,911.05 L1067.73,911.61 L1067.59,912.11 L1067.43,912.54 L1067.26,912.91 L1067.06,913.21 L1066.84,913.44 L1066.59,913.61 L1066.29,913.71 L1065.80,913.74 L1065.31,913.71 L1065.01,913.61 L1064.76,913.44 L1064.54,913.21 L1064.34,912.91 L1064.17,912.54 L1064.01,912.11 L1063.87,911.61 L1063.75,911.05 L1063.64,910.41 L1063.55,909.69 L1063.48,908.90 L1063.42,908.00 L1063.38,906.98 L1063.36,905.76 L1063.35,903.74 L1063.36,901.72 L1063.38,900.50 L1063.42,899.48 L1063.48,898.58 L1063.55,897.79 L1063.64,897.07 L1063.75,896.43 L1063.87,895.87 L1064.01,895.37 L1064.17,894.94 L1064.34,894.57 L1064.54,894.27 L1064.76,894.04 L1065.01,893.87 L1065.31,893.77 L1065.80,893.74 L1066.29,893.77 L1066.59,893.87 L1066.84,894.04 L1067.06,894.27 L1067.26,894.57 L1067.43,894.94 L1067.59,895.37 L1067.73,895.87 L1067.85,896.43 L1067.96,897.07 L1068.05,897.79 L1068.12,898.58 L1068.18,899.48 L1068.22,900.50 L1068.24,901.72Z"/>
<path fill-rule="evenodd" d="M1091.05,903.74 L1091.02,906.25 L1090.95,907.91 L1090.81,909.34 L1090.63,910.61 L1090.40,911.76 L1090.11,912.80 L1089.77,913.73 L1089.39,914.57 L1088.95,915.31 L1088.46,915.95 L1087.91,916.50 L1087.31,916.94 L1086.64,917.29 L1085.89,917.54 L1085.02,917.69 L1083.70,917.74 L1082.38,917.69 L1081.51,917.54 L1080.76,917.29 L1080.09,916.94 L1079.49,916.50 L1078.94,915.95 L1078.45,915.31 L1078.01,914.57 L1077.63,913.73 L1077.29,912.80 L1077.00,911.76 L1076.77,910.61 L1076.59,909.34 L1076.45,907.91 L1076.38,906.25 L1076.35,903.74 L1076.38,901.23 L1076.45,899.57 L1076.59,898.14 L1076.77,896.87 L1077.00,895.72 L1077.29,894.68 L1077.63,893.75 L1078.01,892.91 L1078.45,892.17 L1078.94,891.53 L1079.49,890.98 L1080.09,890.54 L1080.76,890.19 L1081.51,889.94 L1082.38,889.79 L1083.70,889.74 L1085.02,889.79 L1085.89,889.94 L1086.64,890.19 L1087.31,890.54 L1087.91,890.98 L1088.46,891.53 L1088.95,892.17 L1089.39,892.91 L1089.77,893.75 L1090.11,894.68 L1090.40,895.72 L1090.63,896.87 L1090.81,898.14 L1090.95,899.57 L1091.02,901.23Z M1086.15,903.74 L1086.14,905.76 L1086.12,906.98 L1086.08,908.00 L1086.02,908.90 L1085.95,909.69 L1085.86,910.41 L1085.75,911.05 L1085.63,911.61 L1085.49,912.11 L1085.33,912.54 L1085.16,912.91 L1084.96,913.21 L1084.74,913.44 L1084.49,913.61 L1084.19,913.71 L1083.70,913.74 L1083.21,913.71 L1082.91,913.61 L1082.66,913.44 L1082.44,913.21 L1082.24,912.91 L1082.07,912.54 L1081.91,912.11 L1081.77,911.61 L1081.65,911.05 L1081.54,910.41 L1081.45,909.69 L1081.38,908.90 L1081.32,908.00 L1081.28,906.98 L1081.26,905.76 L1081.25,903.74 L1081.26,901.72 L1081.28,900.50 L1081.32,899.48 L1081.38,898.58 L1081.45,897.79 L1081.54,897.07 L1081.65,896.43 L1081.77,895.87 L1081.91,895.37 L1082.07,894.94 L1082.24,894.57 L1082.44,894.27 L1082.66,894.04 L1082.91,893.87 L1083.21,893.77 L1083.70,893.74 L1084.19,893.77 L1084.49,893.87 L1084.74,894.04 L1084.96,894.27 L1085.16,894.57 L1085.33,894.94 L1085.49,895.37 L1085.63,895.87 L1085.75,896.43 L1085.86,897.07 L1085.95,897.79 L1086.02,898.58 L1086.08,899.48 L1086.12,900.50 L1086.14,901.72Z"/>
<path fill-rule="evenodd" d="M1108.95,903.74 L1108.92,906.25 L1108.85,907.91 L1108.71,909.34 L1108.53,910.61 L1108.30,911.76 L1108.01,912.80 L1107.67,913.73 L1107.29,914.57 L1106.85,915.31 L1106.36,915.95 L1105.81,916.50 L1105.21,916.94 L1104.54,917.29 L1103.79,917.54 L1102.92,917.69 L1101.60,917.74 L1100.28,917.69 L1099.41,917.54 L1098.66,917.29 L1097.99,916.94 L1097.39,916.50 L1096.84,915.95 L1096.35,915.31 L1095.91,914.57 L1095.53,913.73 L1095.19,912.80 L1094.90,911.76 L1094.67,910.61 L1094.49,909.34 L1094.35,907.91 L1094.28,906.25 L1094.25,903.74 L1094.28,901.23 L1094.35,899.57 L1094.49,898.14 L1094.67,896.87 L1094.90,895.72 L1095.19,894.68 L1095.53,893.75 L1095.91,892.91 L1096.35,892.17 L1096.84,891.53 L1097.39,890.98 L1097.99,890.54 L1098.66,890.19 L1099.41,889.94 L1100.28,889.79 L1101.60,889.74 L1102.92,889.79 L1103.79,889.94 L1104.54,890.19 L1105.21,890.54 L1105.81,890.98 L1106.36,891.53 L1106.85,892.17 L1107.29,892.91 L1107.67,893.75 L1108.01,894.68 L1108.30,895.72 L1108.53,896.87 L1108.71,898.14 L1108.85,899.57 L1108.92,901.23Z M1104.05,903.74 L1104.04,905.76 L1104.02,906.98 L1103.98,908.00 L1103.92,908.90 L1103.85,909.69 L1103.76,910.41 L1103.65,911.05 L1103.53,911.61 L1103.39,912.11 L1103.23,912.54 L1103.06,912.91 L1102.86,913.21 L1102.64,913.44 L1102.39,913.61 L1102.09,913.71 L1101.60,913.74 L1101.11,913.71 L1100.81,913.61 L1100.56,913.44 L1100.34,913.21 L1100.14,912.91 L1099.97,912.54 L1099.81,912.11 L1099.67,911.61 L1099.55,911.05 L1099.44,910.41 L1099.35,909.69 L1099.28,908.90 L1099.22,908.00 L1099.18,906.98 L1099.16,905.76 L1099.15,903.74 L1099.16,901.72 L1099.18,900.50 L1099.22,899.48 L1099.28,898.58 L1099.35,897.79 L1099.44,897.07 L1099.55,896.43 L1099.67,895.87 L1099.81,895.37 L1099.97,894.94 L1100.14,894.57 L1100.34,894.27 L1100.56,894.04 L1100.81,893.87 L1101.11,893.77 L1101.60,893.74 L1102.09,893.77 L1102.39,893.87 L1102.64,894.04 L1102.86,894.27 L1103.06,894.57 L1103.23,894.94 L1103.39,895.37 L1103.53,895.87 L1103.65,896.43 L1103.76,897.07 L1103.85,897.79 L1103.92,898.58 L1103.98,899.48 L1104.02,900.50 L1104.04,901.72Z"/>
<path fill-rule="evenodd" d="M1126.85,903.74 L1126.82,906.25 L1126.75,907.91 L1126.61,909.34 L1126.43,910.61 L1126.20,911.76 L1125.91,912.80 L1125.57,913.73 L1125.19,914.57 L1124.75,915.31 L1124.26,915.95 L1123.71,916.50 L1123.11,916.94 L1122.44,917.29 L1121.69,917.54 L1120.82,917.69 L1119.50,917.74 L1118.18,917.69 L1117.31,917.54 L1116.56,917.29 L1115.89,916.94 L1115.29,916.50 L1114.74,915.95 L1114.25,915.31 L1113.81,914.57 L1113.43,913.73 L1113.09,912.80 L1112.80,911.76 L1112.57,910.61 L1112.39,909.34 L1112.25,907.91 L1112.18,906.25 L1112.15,903.74 L1112.18,901.23 L1112.25,899.57 L1112.39,898.14 L1112.57,896.87 L1112.80,895.72 L1113.09,894.68 L1113.43,893.75 L1113.81,892.91 L1114.25,892.17 L1114.74,891.53 L1115.29,890.98 L1115.89,890.54 L1116.56,890.19 L1117.31,889.94 L1118.18,889.79 L1119.50,889.74 L1120.82,889.79 L1121.69,889.94 L1122.44,890.19 L1123.11,890.54 L1123.71,890.98 L1124.26,891.53 L1124.75,892.17 L1125.19,892.91 L1125.57,893.75 L1125.91,894.68 L1126.20,895.72 L1126.43,896.87 L1126.61,898.14 L1126.75,899.57 L1126.82,901.23Z M1121.95,903.74 L1121.94,905.76 L1121.92,906.98 L1121.88,908.00 L1121.82,908.90 L1121.75,909.69 L1121.66,910.41 L1121.55,911.05 L1121.43,911.61 L1121.29,912.11 L1121.13,912.54 L1120.96,912.91 L1120.76,913.21 L1120.54,913.44 L1120.29,913.61 L1119.99,913.71 L1119.50,913.74 L1119.01,913.71 L1118.71,913.61 L1118.46,913.44 L1118.24,913.21 L1118.04,912.91 L1117.87,912.54 L1117.71,912.11 L1117.57,911.61 L1117.45,911.05 L1117.34,910.41 L1117.25,909.69 L1117.18,908.90 L1117.12,908.00 L1117.08,906.98 L1117.06,905.76 L1117.05,903.74 L1117.06,901.72 L1117.08,900.50 L1117.12,899.48 L1117.18,898.58 L1117.25,897.79 L1117.34,897.07 L1117.45,896.43 L1117.57,895.87 L1117.71,895.37 L1117.87,894.94 L1118.04,894.57 L1118.24,894.27 L1118.46,894.04 L1118.71,893.87 L1119.01,893.77 L1119.50,893.74 L1119.99,893.77 L1120.29,893.87 L1120.54,894.04 L1120.76,894.27 L1120.96,894.57 L1121.13,894.94 L1121.29,895.37 L1121.43,895.87 L1121.55,896.43 L1121.66,897.07 L1121.75,897.79 L1121.82,898.58 L1121.88,899.48 L1121.92,900.50 L1121.94,901.72Z"/>
<text transform="translate(1127.78,917.59) scale(0.880,1)" style="font-family:&quot;Liberation Sans&quot;,sans-serif;font-weight:bold;font-size:37.8px">/</text>
<text transform="translate(1136.40,917.59) scale(0.883,1)" style="font-family:&quot;Liberation Sans&quot;,sans-serif;font-weight:bold;font-size:37.8px">m</text>
<text transform="translate(1165.50,898.39) scale(0.880,1)" style="font-family:&quot;Liberation Sans&quot;,sans-serif;font-weight:bold;font-size:29.5px">3</text>
</g>
<g filter="url(#b)" fill="#111" stroke="#111" stroke-width="0.8" transform="translate(102.3,710.9) rotate(-90)">
<text transform="translate(-3.23,0.00) scale(1.162,1)" style="font-family:&quot;Liberation Serif&quot;,serif;font-style:italic;font-size:76.0px">&#954;</text>
<text transform="translate(42.98,16.20) scale(1.059,1)" style="font-family:&quot;Liberation Serif&quot;,serif;font-style:italic;font-size:59.0px">e</text>
<text transform="translate(73.57,16.20) scale(1.209,1)" style="font-family:&quot;Liberation Serif&quot;,serif;font-style:italic;font-size:59.0px">x</text>
<text transform="translate(107.74,16.20) scale(1.449,1)" style="font-family:&quot;Liberation Serif&quot;,serif;font-style:italic;font-size:59.0px">t</text>
<text transform="translate(198.11,0.00) scale(1.228,1)" style="font-family:&quot;Liberation Serif&quot;,serif;font-style:italic;font-size:75.0px">d</text>
<text transform="translate(249.02,0.00) scale(1.134,1)" style="font-family:&quot;Liberation Serif&quot;,serif;font-style:italic;font-size:74.4px">B</text>
<text transform="translate(344.90,0.00) scale(1.378,1)" style="font-family:&quot;Liberation Serif&quot;,serif;font-style:italic;font-size:76.4px">m</text>
</g>
<g filter="url(#b)"><path d="M51.6,370.6L115.6,400.2" stroke="#111" stroke-width="5" stroke-linecap="round"/></g>
</svg></body></html>
